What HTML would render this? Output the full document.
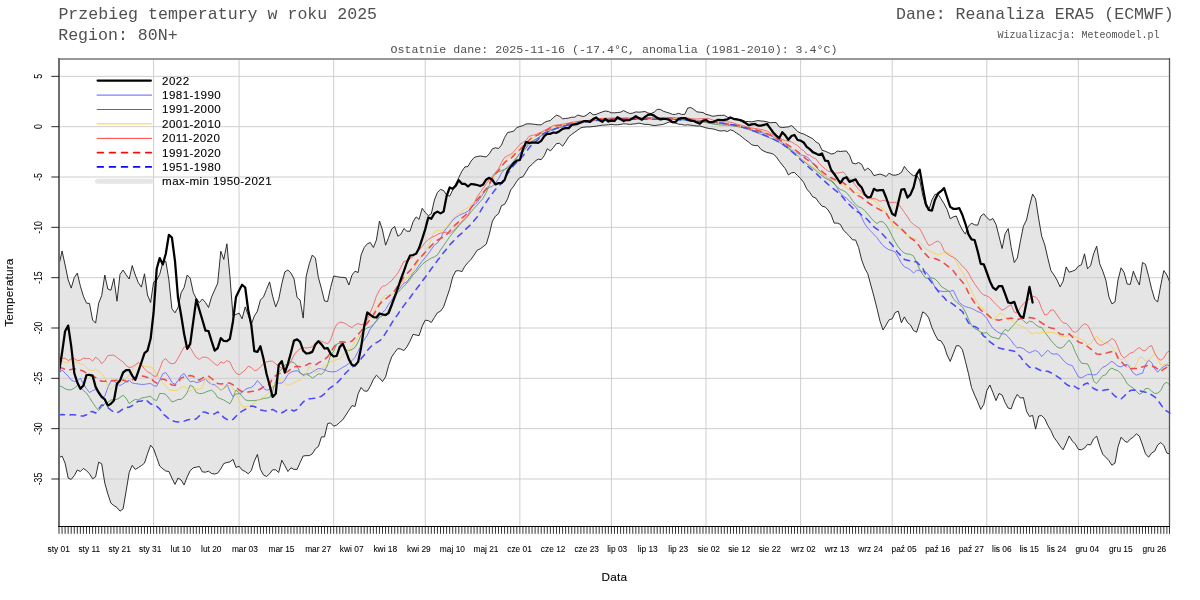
<!DOCTYPE html>
<html lang="pl">
<head>
<meta charset="utf-8">
<title>Przebieg temperatury w roku 2025 - Region: 80N+</title>
<style>
html,body{margin:0;padding:0;background:#fff;}
body{width:1200px;height:600px;overflow:hidden;}
svg{display:block;}
</style>
</head>
<body>
<svg width="1200" height="600" viewBox="0 0 1200 600" role="img" aria-label="Przebieg temperatury w roku 2025">
<rect width="1200" height="600" fill="#fff"/>
<g id="plot">
<path d="M59.0,76.35H1169.5M59.0,126.68H1169.5M59.0,177.01H1169.5M59.0,227.34H1169.5M59.0,277.67H1169.5M59.0,328.00H1169.5M59.0,378.33H1169.5M59.0,428.66H1169.5M59.0,478.99H1169.5M153.61,59.0V526.5M239.07,59.0V526.5M333.68,59.0V526.5M425.24,59.0V526.5M519.85,59.0V526.5M611.41,59.0V526.5M706.02,59.0V526.5M800.64,59.0V526.5M892.20,59.0V526.5M986.81,59.0V526.5M1078.37,59.0V526.5" fill="none" stroke="#cecece" stroke-width="1"/>
<path d="M59.0,264.8 L62.1,251.0 L65.1,265.0 L68.2,280.0 L71.2,288.1 L74.3,277.5 L77.3,273.1 L80.4,286.2 L83.4,296.2 L86.5,303.1 L89.5,303.5 L92.6,320.0 L95.6,323.1 L98.7,303.1 L101.7,295.6 L104.8,275.0 L107.8,289.0 L110.9,290.2 L113.9,278.5 L117.0,301.2 L120.0,274.4 L123.1,270.0 L126.1,274.8 L129.2,279.0 L132.2,265.6 L135.3,275.0 L138.4,282.8 L141.4,287.1 L144.5,273.8 L147.5,295.0 L150.6,302.5 L153.6,282.2 L156.7,280.0 L159.7,274.4 L162.8,262.5 L165.8,261.2 L168.9,280.0 L171.9,308.8 L175.0,312.8 L178.0,307.5 L181.1,292.8 L184.1,287.5 L187.2,275.0 L190.2,278.1 L193.3,292.5 L196.3,298.8 L199.4,302.5 L202.4,299.0 L205.5,302.5 L208.5,307.5 L211.6,296.9 L214.7,290.0 L217.7,283.1 L220.8,251.2 L223.8,259.4 L226.9,243.8 L229.9,276.2 L233.0,316.2 L236.0,314.4 L239.1,313.1 L242.1,318.8 L245.2,306.9 L248.2,315.0 L251.3,324.4 L254.3,316.2 L257.4,311.2 L260.4,300.0 L263.5,296.9 L266.5,289.4 L269.6,281.9 L272.6,296.2 L275.7,306.9 L278.7,299.4 L281.8,283.8 L284.8,271.9 L287.9,270.0 L291.0,273.1 L294.0,278.8 L297.1,297.5 L300.1,300.0 L303.2,318.1 L306.2,276.2 L309.3,263.8 L312.3,255.0 L315.4,258.1 L318.4,277.5 L321.5,288.8 L324.5,301.0 L327.6,301.5 L330.6,287.5 L333.7,276.0 L336.7,276.6 L339.8,277.2 L342.8,277.4 L345.9,277.8 L348.9,285.0 L352.0,275.0 L355.0,271.2 L358.1,272.5 L361.1,255.0 L364.2,247.5 L367.3,243.8 L370.3,242.5 L373.4,247.5 L376.4,240.0 L379.5,221.0 L382.5,230.0 L385.6,245.2 L388.6,237.5 L391.7,229.0 L394.7,226.5 L397.8,236.2 L400.8,234.4 L403.9,228.5 L406.9,231.2 L410.0,231.2 L413.0,221.9 L416.1,216.9 L419.1,219.4 L422.2,208.3 L425.2,212.5 L428.3,215.6 L431.3,213.8 L434.4,200.0 L437.4,192.5 L440.5,189.4 L443.6,190.6 L446.6,195.0 L449.7,196.2 L452.7,190.0 L455.8,183.8 L458.8,177.5 L461.9,171.2 L464.9,166.9 L468.0,166.5 L471.0,161.2 L474.1,157.5 L477.1,156.5 L480.2,156.0 L483.2,156.5 L486.3,156.9 L489.3,153.8 L492.4,148.8 L495.4,147.8 L498.5,148.5 L501.5,145.0 L504.6,137.5 L507.6,132.5 L510.7,131.9 L513.7,131.2 L516.8,127.5 L519.9,126.5 L522.9,125.6 L526.0,124.0 L529.0,123.8 L532.1,124.0 L535.1,124.4 L538.2,124.8 L541.2,124.8 L544.3,122.5 L547.3,121.2 L550.4,120.6 L553.4,117.5 L556.5,115.2 L559.5,116.2 L562.6,118.8 L565.6,118.5 L568.7,118.1 L571.7,117.2 L574.8,117.2 L577.8,115.0 L580.9,116.0 L583.9,116.5 L587.0,114.8 L590.0,112.2 L593.1,114.8 L596.2,114.4 L599.2,113.1 L602.3,111.9 L605.3,111.0 L608.4,111.5 L611.4,112.8 L614.5,112.8 L617.5,112.5 L620.6,112.2 L623.6,110.6 L626.7,112.2 L629.7,113.5 L632.8,113.1 L635.8,111.9 L638.9,112.2 L641.9,111.9 L645.0,111.5 L648.0,113.1 L651.1,113.5 L654.1,112.2 L657.2,109.4 L660.2,109.4 L663.3,111.2 L666.3,112.2 L669.4,113.1 L672.5,114.4 L675.5,114.4 L678.6,113.3 L681.6,114.4 L684.7,114.4 L687.7,108.1 L690.8,107.5 L693.8,109.4 L696.9,111.9 L699.9,112.2 L703.0,112.5 L706.0,114.4 L709.1,115.0 L712.1,116.2 L715.2,116.0 L718.2,115.4 L721.3,115.4 L724.3,115.2 L727.4,117.2 L730.4,117.8 L733.5,118.5 L736.5,119.0 L739.6,119.4 L742.6,120.2 L745.7,121.5 L748.8,121.5 L751.8,121.9 L754.9,121.2 L757.9,120.6 L761.0,121.0 L764.0,121.2 L767.1,121.9 L770.1,122.8 L773.2,122.5 L776.2,122.5 L779.3,126.9 L782.3,127.5 L785.4,127.2 L788.4,126.9 L791.5,125.6 L794.5,128.1 L797.6,131.5 L800.6,133.1 L803.7,134.0 L806.7,135.6 L809.8,137.2 L812.8,138.8 L815.9,141.9 L818.9,143.5 L822.0,150.2 L825.1,151.2 L828.1,152.5 L831.2,154.0 L834.2,153.5 L837.3,151.0 L840.3,151.5 L843.4,151.2 L846.4,151.0 L849.5,155.2 L852.5,163.1 L855.6,163.8 L858.6,162.5 L861.7,164.4 L864.7,170.6 L867.8,168.1 L870.8,170.6 L873.9,175.6 L876.9,174.8 L880.0,174.0 L883.0,175.0 L886.1,176.5 L889.1,173.1 L892.2,175.0 L895.2,175.2 L898.3,174.4 L901.4,172.5 L904.4,166.4 L907.5,170.6 L910.5,173.6 L913.6,175.8 L916.6,175.3 L919.7,180.0 L922.7,195.0 L925.8,206.2 L928.8,210.0 L931.9,200.0 L934.9,194.4 L938.0,194.0 L941.0,198.8 L944.1,203.8 L947.1,209.4 L950.2,218.8 L953.2,216.9 L956.3,216.0 L959.3,223.8 L962.4,230.0 L965.4,234.1 L968.5,226.2 L971.5,223.1 L974.6,224.8 L977.7,225.2 L980.7,216.2 L983.8,213.8 L986.8,217.5 L989.9,220.2 L992.9,218.5 L996.0,224.4 L999.0,236.2 L1002.1,248.5 L1005.1,233.8 L1008.2,228.6 L1011.2,247.5 L1014.3,262.5 L1017.3,258.1 L1020.4,241.2 L1023.4,226.2 L1026.5,220.0 L1029.5,206.2 L1032.6,194.0 L1035.6,198.8 L1038.7,218.8 L1041.7,236.2 L1044.8,245.0 L1047.8,258.1 L1050.9,270.6 L1054.0,275.0 L1057.0,280.0 L1060.1,286.9 L1063.1,281.2 L1066.2,266.9 L1069.2,272.2 L1072.3,271.2 L1075.3,270.0 L1078.4,266.2 L1081.4,264.8 L1084.5,253.8 L1087.5,268.8 L1090.6,265.6 L1093.6,253.8 L1096.7,246.2 L1099.7,263.8 L1102.8,271.2 L1105.8,280.0 L1108.9,296.9 L1111.9,303.8 L1115.0,301.9 L1118.0,280.0 L1121.1,267.8 L1124.1,272.5 L1127.2,284.0 L1130.3,284.4 L1133.3,271.2 L1136.4,278.8 L1139.4,285.0 L1142.5,262.5 L1145.5,264.4 L1148.6,276.2 L1151.6,288.8 L1154.7,299.4 L1157.7,301.9 L1160.8,285.0 L1163.8,270.6 L1166.9,275.0 L1169.9,282.5 L1169.9,454.0 L1166.9,453.1 L1163.8,445.6 L1160.8,442.5 L1157.7,445.0 L1154.7,451.2 L1151.6,453.1 L1148.6,457.2 L1145.5,453.8 L1142.5,445.0 L1139.4,436.2 L1136.4,433.8 L1133.3,437.2 L1130.3,439.0 L1127.2,442.5 L1124.1,440.6 L1121.1,437.2 L1118.0,446.9 L1115.0,463.1 L1111.9,465.2 L1108.9,460.6 L1105.8,457.2 L1102.8,454.4 L1099.7,446.2 L1096.7,436.2 L1093.6,438.8 L1090.6,445.0 L1087.5,444.4 L1084.5,448.1 L1081.4,449.8 L1078.4,449.4 L1075.3,444.0 L1072.3,441.0 L1069.2,436.0 L1066.2,443.1 L1063.1,449.8 L1060.1,446.2 L1057.0,441.5 L1054.0,437.5 L1050.9,430.6 L1047.8,425.3 L1044.8,418.8 L1041.7,415.6 L1038.7,416.0 L1035.6,429.1 L1032.6,415.4 L1029.5,416.5 L1026.5,411.2 L1023.4,397.5 L1020.4,398.1 L1017.3,394.4 L1014.3,400.0 L1011.2,408.8 L1008.2,408.1 L1005.1,402.5 L1002.1,395.0 L999.0,393.5 L996.0,400.6 L992.9,392.5 L989.9,385.0 L986.8,390.6 L983.8,404.4 L980.7,409.4 L977.7,401.9 L974.6,395.0 L971.5,387.5 L968.5,373.8 L965.4,361.2 L962.4,349.7 L959.3,345.8 L956.3,345.8 L953.2,353.8 L950.2,361.4 L947.1,355.0 L944.1,345.9 L941.0,340.9 L938.0,340.0 L934.9,334.4 L931.9,327.5 L928.8,318.1 L925.8,313.8 L922.7,311.9 L919.7,322.5 L916.6,332.2 L913.6,330.6 L910.5,325.0 L907.5,322.5 L904.4,316.9 L901.4,322.8 L898.3,311.2 L895.2,312.5 L892.2,318.8 L889.1,319.8 L886.1,325.0 L883.0,330.0 L880.0,321.2 L876.9,308.1 L873.9,296.2 L870.8,285.0 L867.8,273.8 L864.7,268.1 L861.7,260.0 L858.6,247.5 L855.6,240.0 L852.5,239.8 L849.5,236.2 L846.4,233.1 L843.4,230.0 L840.3,224.4 L837.3,223.1 L834.2,223.1 L831.2,215.0 L828.1,210.0 L825.1,206.9 L822.0,206.2 L818.9,202.5 L815.9,198.1 L812.8,196.9 L809.8,192.5 L806.7,188.8 L803.7,182.5 L800.6,178.5 L797.6,175.6 L794.5,172.5 L791.5,172.8 L788.4,175.0 L785.4,168.8 L782.3,165.0 L779.3,161.2 L776.2,156.7 L773.2,154.1 L770.1,153.1 L767.1,152.5 L764.0,151.2 L761.0,149.4 L757.9,145.6 L754.9,145.6 L751.8,144.8 L748.8,142.2 L745.7,140.0 L742.6,137.5 L739.6,135.0 L736.5,133.1 L733.5,131.0 L730.4,129.8 L727.4,131.5 L724.3,130.6 L721.3,131.0 L718.2,130.6 L715.2,129.4 L712.1,128.8 L709.1,128.5 L706.0,127.8 L703.0,126.9 L699.9,126.0 L696.9,126.0 L693.8,125.6 L690.8,125.2 L687.7,124.8 L684.7,125.2 L681.6,124.4 L678.6,124.2 L675.5,123.1 L672.5,122.6 L669.4,121.9 L666.3,123.1 L663.3,124.4 L660.2,124.8 L657.2,125.2 L654.1,125.6 L651.1,125.0 L648.0,124.4 L645.0,124.4 L641.9,123.8 L638.9,123.1 L635.8,123.8 L632.8,124.0 L629.7,124.4 L626.7,124.0 L623.6,123.8 L620.6,124.4 L617.5,124.8 L614.5,124.8 L611.4,124.4 L608.4,124.8 L605.3,125.0 L602.3,125.2 L599.2,125.6 L596.2,126.2 L593.1,126.5 L590.0,126.9 L587.0,126.9 L583.9,127.2 L580.9,127.8 L577.8,130.0 L574.8,132.2 L571.7,134.4 L568.7,136.9 L565.6,141.9 L562.6,146.2 L559.5,143.3 L556.5,143.6 L553.4,147.5 L550.4,150.9 L547.3,148.8 L544.3,155.6 L541.2,159.7 L538.2,159.1 L535.1,161.2 L532.1,164.4 L529.0,166.9 L526.0,171.9 L522.9,176.9 L519.9,177.5 L516.8,181.2 L513.7,186.2 L510.7,190.0 L507.6,198.8 L504.6,204.4 L501.5,205.6 L498.5,213.8 L495.4,216.2 L492.4,221.2 L489.3,234.1 L486.3,244.1 L483.2,246.6 L480.2,248.8 L477.1,250.3 L474.1,255.0 L471.0,259.4 L468.0,262.5 L464.9,266.2 L461.9,271.7 L458.8,270.6 L455.8,271.0 L452.7,276.9 L449.7,288.8 L446.6,298.1 L443.6,306.9 L440.5,311.2 L437.4,312.8 L434.4,317.5 L431.3,322.5 L428.3,320.6 L425.2,320.2 L422.2,326.2 L419.1,335.6 L416.1,335.0 L413.0,334.4 L410.0,341.2 L406.9,346.9 L403.9,350.6 L400.8,349.0 L397.8,348.5 L394.7,352.5 L391.7,356.9 L388.6,365.6 L385.6,376.9 L382.5,381.5 L379.5,378.1 L376.4,375.2 L373.4,379.4 L370.3,386.2 L367.3,391.2 L364.2,391.0 L361.1,387.5 L358.1,393.8 L355.0,406.5 L352.0,405.6 L348.9,410.3 L345.9,415.0 L342.8,419.7 L339.8,422.3 L336.7,425.1 L333.7,426.2 L330.6,422.9 L327.6,423.6 L324.5,436.9 L321.5,436.9 L318.4,446.5 L315.4,448.8 L312.3,453.8 L309.3,455.6 L306.2,455.6 L303.2,456.0 L300.1,462.5 L297.1,469.4 L294.0,469.4 L291.0,467.8 L287.9,471.5 L284.8,465.6 L281.8,460.2 L278.7,472.5 L275.7,469.8 L272.6,469.8 L269.6,473.8 L266.5,476.5 L263.5,475.0 L260.4,469.4 L257.4,454.4 L254.3,461.2 L251.3,470.6 L248.2,473.8 L245.2,471.5 L242.1,470.0 L239.1,466.2 L236.0,467.5 L233.0,459.4 L229.9,461.9 L226.9,462.5 L223.8,463.5 L220.8,468.8 L217.7,473.1 L214.7,474.0 L211.6,473.5 L208.5,471.2 L205.5,472.2 L202.4,471.9 L199.4,466.5 L196.3,467.2 L193.3,467.8 L190.2,470.6 L187.2,476.9 L184.1,485.0 L181.1,480.0 L178.0,478.1 L175.0,484.4 L171.9,478.1 L168.9,471.5 L165.8,471.0 L162.8,468.8 L159.7,466.0 L156.7,457.5 L153.6,448.8 L150.6,445.2 L147.5,453.8 L144.5,463.1 L141.4,465.6 L138.4,467.5 L135.3,469.4 L132.2,465.4 L129.2,472.5 L126.1,491.2 L123.1,508.8 L120.0,511.2 L117.0,507.5 L113.9,505.6 L110.9,503.1 L107.8,493.8 L104.8,483.1 L101.7,463.8 L98.7,462.2 L95.6,476.9 L92.6,478.8 L89.5,473.8 L86.5,470.6 L83.4,468.5 L80.4,471.5 L77.3,470.0 L74.3,475.6 L71.2,479.4 L68.2,478.1 L65.1,463.1 L62.1,456.2 L59.0,457.5Z" fill="#cccccc" fill-opacity="0.5" stroke="none"/>
<path d="M59.0,264.8 L62.1,251.0 L65.1,265.0 L68.2,280.0 L71.2,288.1 L74.3,277.5 L77.3,273.1 L80.4,286.2 L83.4,296.2 L86.5,303.1 L89.5,303.5 L92.6,320.0 L95.6,323.1 L98.7,303.1 L101.7,295.6 L104.8,275.0 L107.8,289.0 L110.9,290.2 L113.9,278.5 L117.0,301.2 L120.0,274.4 L123.1,270.0 L126.1,274.8 L129.2,279.0 L132.2,265.6 L135.3,275.0 L138.4,282.8 L141.4,287.1 L144.5,273.8 L147.5,295.0 L150.6,302.5 L153.6,282.2 L156.7,280.0 L159.7,274.4 L162.8,262.5 L165.8,261.2 L168.9,280.0 L171.9,308.8 L175.0,312.8 L178.0,307.5 L181.1,292.8 L184.1,287.5 L187.2,275.0 L190.2,278.1 L193.3,292.5 L196.3,298.8 L199.4,302.5 L202.4,299.0 L205.5,302.5 L208.5,307.5 L211.6,296.9 L214.7,290.0 L217.7,283.1 L220.8,251.2 L223.8,259.4 L226.9,243.8 L229.9,276.2 L233.0,316.2 L236.0,314.4 L239.1,313.1 L242.1,318.8 L245.2,306.9 L248.2,315.0 L251.3,324.4 L254.3,316.2 L257.4,311.2 L260.4,300.0 L263.5,296.9 L266.5,289.4 L269.6,281.9 L272.6,296.2 L275.7,306.9 L278.7,299.4 L281.8,283.8 L284.8,271.9 L287.9,270.0 L291.0,273.1 L294.0,278.8 L297.1,297.5 L300.1,300.0 L303.2,318.1 L306.2,276.2 L309.3,263.8 L312.3,255.0 L315.4,258.1 L318.4,277.5 L321.5,288.8 L324.5,301.0 L327.6,301.5 L330.6,287.5 L333.7,276.0 L336.7,276.6 L339.8,277.2 L342.8,277.4 L345.9,277.8 L348.9,285.0 L352.0,275.0 L355.0,271.2 L358.1,272.5 L361.1,255.0 L364.2,247.5 L367.3,243.8 L370.3,242.5 L373.4,247.5 L376.4,240.0 L379.5,221.0 L382.5,230.0 L385.6,245.2 L388.6,237.5 L391.7,229.0 L394.7,226.5 L397.8,236.2 L400.8,234.4 L403.9,228.5 L406.9,231.2 L410.0,231.2 L413.0,221.9 L416.1,216.9 L419.1,219.4 L422.2,208.3 L425.2,212.5 L428.3,215.6 L431.3,213.8 L434.4,200.0 L437.4,192.5 L440.5,189.4 L443.6,190.6 L446.6,195.0 L449.7,196.2 L452.7,190.0 L455.8,183.8 L458.8,177.5 L461.9,171.2 L464.9,166.9 L468.0,166.5 L471.0,161.2 L474.1,157.5 L477.1,156.5 L480.2,156.0 L483.2,156.5 L486.3,156.9 L489.3,153.8 L492.4,148.8 L495.4,147.8 L498.5,148.5 L501.5,145.0 L504.6,137.5 L507.6,132.5 L510.7,131.9 L513.7,131.2 L516.8,127.5 L519.9,126.5 L522.9,125.6 L526.0,124.0 L529.0,123.8 L532.1,124.0 L535.1,124.4 L538.2,124.8 L541.2,124.8 L544.3,122.5 L547.3,121.2 L550.4,120.6 L553.4,117.5 L556.5,115.2 L559.5,116.2 L562.6,118.8 L565.6,118.5 L568.7,118.1 L571.7,117.2 L574.8,117.2 L577.8,115.0 L580.9,116.0 L583.9,116.5 L587.0,114.8 L590.0,112.2 L593.1,114.8 L596.2,114.4 L599.2,113.1 L602.3,111.9 L605.3,111.0 L608.4,111.5 L611.4,112.8 L614.5,112.8 L617.5,112.5 L620.6,112.2 L623.6,110.6 L626.7,112.2 L629.7,113.5 L632.8,113.1 L635.8,111.9 L638.9,112.2 L641.9,111.9 L645.0,111.5 L648.0,113.1 L651.1,113.5 L654.1,112.2 L657.2,109.4 L660.2,109.4 L663.3,111.2 L666.3,112.2 L669.4,113.1 L672.5,114.4 L675.5,114.4 L678.6,113.3 L681.6,114.4 L684.7,114.4 L687.7,108.1 L690.8,107.5 L693.8,109.4 L696.9,111.9 L699.9,112.2 L703.0,112.5 L706.0,114.4 L709.1,115.0 L712.1,116.2 L715.2,116.0 L718.2,115.4 L721.3,115.4 L724.3,115.2 L727.4,117.2 L730.4,117.8 L733.5,118.5 L736.5,119.0 L739.6,119.4 L742.6,120.2 L745.7,121.5 L748.8,121.5 L751.8,121.9 L754.9,121.2 L757.9,120.6 L761.0,121.0 L764.0,121.2 L767.1,121.9 L770.1,122.8 L773.2,122.5 L776.2,122.5 L779.3,126.9 L782.3,127.5 L785.4,127.2 L788.4,126.9 L791.5,125.6 L794.5,128.1 L797.6,131.5 L800.6,133.1 L803.7,134.0 L806.7,135.6 L809.8,137.2 L812.8,138.8 L815.9,141.9 L818.9,143.5 L822.0,150.2 L825.1,151.2 L828.1,152.5 L831.2,154.0 L834.2,153.5 L837.3,151.0 L840.3,151.5 L843.4,151.2 L846.4,151.0 L849.5,155.2 L852.5,163.1 L855.6,163.8 L858.6,162.5 L861.7,164.4 L864.7,170.6 L867.8,168.1 L870.8,170.6 L873.9,175.6 L876.9,174.8 L880.0,174.0 L883.0,175.0 L886.1,176.5 L889.1,173.1 L892.2,175.0 L895.2,175.2 L898.3,174.4 L901.4,172.5 L904.4,166.4 L907.5,170.6 L910.5,173.6 L913.6,175.8 L916.6,175.3 L919.7,180.0 L922.7,195.0 L925.8,206.2 L928.8,210.0 L931.9,200.0 L934.9,194.4 L938.0,194.0 L941.0,198.8 L944.1,203.8 L947.1,209.4 L950.2,218.8 L953.2,216.9 L956.3,216.0 L959.3,223.8 L962.4,230.0 L965.4,234.1 L968.5,226.2 L971.5,223.1 L974.6,224.8 L977.7,225.2 L980.7,216.2 L983.8,213.8 L986.8,217.5 L989.9,220.2 L992.9,218.5 L996.0,224.4 L999.0,236.2 L1002.1,248.5 L1005.1,233.8 L1008.2,228.6 L1011.2,247.5 L1014.3,262.5 L1017.3,258.1 L1020.4,241.2 L1023.4,226.2 L1026.5,220.0 L1029.5,206.2 L1032.6,194.0 L1035.6,198.8 L1038.7,218.8 L1041.7,236.2 L1044.8,245.0 L1047.8,258.1 L1050.9,270.6 L1054.0,275.0 L1057.0,280.0 L1060.1,286.9 L1063.1,281.2 L1066.2,266.9 L1069.2,272.2 L1072.3,271.2 L1075.3,270.0 L1078.4,266.2 L1081.4,264.8 L1084.5,253.8 L1087.5,268.8 L1090.6,265.6 L1093.6,253.8 L1096.7,246.2 L1099.7,263.8 L1102.8,271.2 L1105.8,280.0 L1108.9,296.9 L1111.9,303.8 L1115.0,301.9 L1118.0,280.0 L1121.1,267.8 L1124.1,272.5 L1127.2,284.0 L1130.3,284.4 L1133.3,271.2 L1136.4,278.8 L1139.4,285.0 L1142.5,262.5 L1145.5,264.4 L1148.6,276.2 L1151.6,288.8 L1154.7,299.4 L1157.7,301.9 L1160.8,285.0 L1163.8,270.6 L1166.9,275.0 L1169.9,282.5" fill="none" stroke="#1a1a1a" stroke-width="0.9" stroke-linejoin="round"/>
<path d="M59.0,457.5 L62.1,456.2 L65.1,463.1 L68.2,478.1 L71.2,479.4 L74.3,475.6 L77.3,470.0 L80.4,471.5 L83.4,468.5 L86.5,470.6 L89.5,473.8 L92.6,478.8 L95.6,476.9 L98.7,462.2 L101.7,463.8 L104.8,483.1 L107.8,493.8 L110.9,503.1 L113.9,505.6 L117.0,507.5 L120.0,511.2 L123.1,508.8 L126.1,491.2 L129.2,472.5 L132.2,465.4 L135.3,469.4 L138.4,467.5 L141.4,465.6 L144.5,463.1 L147.5,453.8 L150.6,445.2 L153.6,448.8 L156.7,457.5 L159.7,466.0 L162.8,468.8 L165.8,471.0 L168.9,471.5 L171.9,478.1 L175.0,484.4 L178.0,478.1 L181.1,480.0 L184.1,485.0 L187.2,476.9 L190.2,470.6 L193.3,467.8 L196.3,467.2 L199.4,466.5 L202.4,471.9 L205.5,472.2 L208.5,471.2 L211.6,473.5 L214.7,474.0 L217.7,473.1 L220.8,468.8 L223.8,463.5 L226.9,462.5 L229.9,461.9 L233.0,459.4 L236.0,467.5 L239.1,466.2 L242.1,470.0 L245.2,471.5 L248.2,473.8 L251.3,470.6 L254.3,461.2 L257.4,454.4 L260.4,469.4 L263.5,475.0 L266.5,476.5 L269.6,473.8 L272.6,469.8 L275.7,469.8 L278.7,472.5 L281.8,460.2 L284.8,465.6 L287.9,471.5 L291.0,467.8 L294.0,469.4 L297.1,469.4 L300.1,462.5 L303.2,456.0 L306.2,455.6 L309.3,455.6 L312.3,453.8 L315.4,448.8 L318.4,446.5 L321.5,436.9 L324.5,436.9 L327.6,423.6 L330.6,422.9 L333.7,426.2 L336.7,425.1 L339.8,422.3 L342.8,419.7 L345.9,415.0 L348.9,410.3 L352.0,405.6 L355.0,406.5 L358.1,393.8 L361.1,387.5 L364.2,391.0 L367.3,391.2 L370.3,386.2 L373.4,379.4 L376.4,375.2 L379.5,378.1 L382.5,381.5 L385.6,376.9 L388.6,365.6 L391.7,356.9 L394.7,352.5 L397.8,348.5 L400.8,349.0 L403.9,350.6 L406.9,346.9 L410.0,341.2 L413.0,334.4 L416.1,335.0 L419.1,335.6 L422.2,326.2 L425.2,320.2 L428.3,320.6 L431.3,322.5 L434.4,317.5 L437.4,312.8 L440.5,311.2 L443.6,306.9 L446.6,298.1 L449.7,288.8 L452.7,276.9 L455.8,271.0 L458.8,270.6 L461.9,271.7 L464.9,266.2 L468.0,262.5 L471.0,259.4 L474.1,255.0 L477.1,250.3 L480.2,248.8 L483.2,246.6 L486.3,244.1 L489.3,234.1 L492.4,221.2 L495.4,216.2 L498.5,213.8 L501.5,205.6 L504.6,204.4 L507.6,198.8 L510.7,190.0 L513.7,186.2 L516.8,181.2 L519.9,177.5 L522.9,176.9 L526.0,171.9 L529.0,166.9 L532.1,164.4 L535.1,161.2 L538.2,159.1 L541.2,159.7 L544.3,155.6 L547.3,148.8 L550.4,150.9 L553.4,147.5 L556.5,143.6 L559.5,143.3 L562.6,146.2 L565.6,141.9 L568.7,136.9 L571.7,134.4 L574.8,132.2 L577.8,130.0 L580.9,127.8 L583.9,127.2 L587.0,126.9 L590.0,126.9 L593.1,126.5 L596.2,126.2 L599.2,125.6 L602.3,125.2 L605.3,125.0 L608.4,124.8 L611.4,124.4 L614.5,124.8 L617.5,124.8 L620.6,124.4 L623.6,123.8 L626.7,124.0 L629.7,124.4 L632.8,124.0 L635.8,123.8 L638.9,123.1 L641.9,123.8 L645.0,124.4 L648.0,124.4 L651.1,125.0 L654.1,125.6 L657.2,125.2 L660.2,124.8 L663.3,124.4 L666.3,123.1 L669.4,121.9 L672.5,122.6 L675.5,123.1 L678.6,124.2 L681.6,124.4 L684.7,125.2 L687.7,124.8 L690.8,125.2 L693.8,125.6 L696.9,126.0 L699.9,126.0 L703.0,126.9 L706.0,127.8 L709.1,128.5 L712.1,128.8 L715.2,129.4 L718.2,130.6 L721.3,131.0 L724.3,130.6 L727.4,131.5 L730.4,129.8 L733.5,131.0 L736.5,133.1 L739.6,135.0 L742.6,137.5 L745.7,140.0 L748.8,142.2 L751.8,144.8 L754.9,145.6 L757.9,145.6 L761.0,149.4 L764.0,151.2 L767.1,152.5 L770.1,153.1 L773.2,154.1 L776.2,156.7 L779.3,161.2 L782.3,165.0 L785.4,168.8 L788.4,175.0 L791.5,172.8 L794.5,172.5 L797.6,175.6 L800.6,178.5 L803.7,182.5 L806.7,188.8 L809.8,192.5 L812.8,196.9 L815.9,198.1 L818.9,202.5 L822.0,206.2 L825.1,206.9 L828.1,210.0 L831.2,215.0 L834.2,223.1 L837.3,223.1 L840.3,224.4 L843.4,230.0 L846.4,233.1 L849.5,236.2 L852.5,239.8 L855.6,240.0 L858.6,247.5 L861.7,260.0 L864.7,268.1 L867.8,273.8 L870.8,285.0 L873.9,296.2 L876.9,308.1 L880.0,321.2 L883.0,330.0 L886.1,325.0 L889.1,319.8 L892.2,318.8 L895.2,312.5 L898.3,311.2 L901.4,322.8 L904.4,316.9 L907.5,322.5 L910.5,325.0 L913.6,330.6 L916.6,332.2 L919.7,322.5 L922.7,311.9 L925.8,313.8 L928.8,318.1 L931.9,327.5 L934.9,334.4 L938.0,340.0 L941.0,340.9 L944.1,345.9 L947.1,355.0 L950.2,361.4 L953.2,353.8 L956.3,345.8 L959.3,345.8 L962.4,349.7 L965.4,361.2 L968.5,373.8 L971.5,387.5 L974.6,395.0 L977.7,401.9 L980.7,409.4 L983.8,404.4 L986.8,390.6 L989.9,385.0 L992.9,392.5 L996.0,400.6 L999.0,393.5 L1002.1,395.0 L1005.1,402.5 L1008.2,408.1 L1011.2,408.8 L1014.3,400.0 L1017.3,394.4 L1020.4,398.1 L1023.4,397.5 L1026.5,411.2 L1029.5,416.5 L1032.6,415.4 L1035.6,429.1 L1038.7,416.0 L1041.7,415.6 L1044.8,418.8 L1047.8,425.3 L1050.9,430.6 L1054.0,437.5 L1057.0,441.5 L1060.1,446.2 L1063.1,449.8 L1066.2,443.1 L1069.2,436.0 L1072.3,441.0 L1075.3,444.0 L1078.4,449.4 L1081.4,449.8 L1084.5,448.1 L1087.5,444.4 L1090.6,445.0 L1093.6,438.8 L1096.7,436.2 L1099.7,446.2 L1102.8,454.4 L1105.8,457.2 L1108.9,460.6 L1111.9,465.2 L1115.0,463.1 L1118.0,446.9 L1121.1,437.2 L1124.1,440.6 L1127.2,442.5 L1130.3,439.0 L1133.3,437.2 L1136.4,433.8 L1139.4,436.2 L1142.5,445.0 L1145.5,453.8 L1148.6,457.2 L1151.6,453.1 L1154.7,451.2 L1157.7,445.0 L1160.8,442.5 L1163.8,445.6 L1166.9,453.1 L1169.9,454.0" fill="none" stroke="#1a1a1a" stroke-width="0.9" stroke-linejoin="round"/>
<path d="M59.0,373.1 L62.1,370.0 L65.1,373.1 L68.2,376.2 L71.2,380.0 L74.3,381.5 L77.3,381.2 L80.4,378.1 L83.4,383.8 L86.5,388.8 L89.5,392.5 L92.6,390.6 L95.6,389.4 L98.7,393.8 L101.7,397.5 L104.8,396.2 L107.8,387.5 L110.9,381.2 L113.9,381.0 L117.0,383.8 L120.0,385.6 L123.1,383.8 L126.1,381.9 L129.2,380.0 L132.2,383.1 L135.3,383.5 L138.4,384.0 L141.4,384.4 L144.5,384.4 L147.5,383.8 L150.6,383.5 L153.6,385.6 L156.7,386.2 L159.7,380.0 L162.8,373.8 L165.8,372.5 L168.9,376.9 L171.9,382.5 L175.0,384.4 L178.0,380.6 L181.1,375.6 L184.1,373.5 L187.2,378.1 L190.2,381.9 L193.3,381.2 L196.3,382.5 L199.4,381.9 L202.4,380.6 L205.5,378.8 L208.5,382.5 L211.6,384.4 L214.7,384.4 L217.7,387.5 L220.8,390.0 L223.8,388.8 L226.9,384.4 L229.9,391.2 L233.0,396.9 L236.0,393.8 L239.1,393.8 L242.1,392.5 L245.2,389.4 L248.2,388.1 L251.3,387.5 L254.3,385.0 L257.4,380.6 L260.4,383.8 L263.5,388.1 L266.5,390.2 L269.6,389.4 L272.6,386.9 L275.7,384.4 L278.7,383.1 L281.8,383.1 L284.8,380.0 L287.9,374.4 L291.0,372.2 L294.0,371.1 L297.1,370.6 L300.1,373.1 L303.2,374.6 L306.2,373.8 L309.3,373.8 L312.3,372.1 L315.4,370.1 L318.4,368.5 L321.5,368.9 L324.5,369.6 L327.6,371.2 L330.6,371.7 L333.7,371.9 L336.7,371.2 L339.8,369.2 L342.8,367.3 L345.9,365.6 L348.9,363.5 L352.0,360.6 L355.0,357.5 L358.1,351.2 L361.1,345.0 L364.2,340.0 L367.3,335.0 L370.3,328.8 L373.4,325.0 L376.4,320.6 L379.5,315.6 L382.5,312.5 L385.6,309.4 L388.6,304.4 L391.7,300.0 L394.7,295.0 L397.8,290.6 L400.8,286.9 L403.9,283.1 L406.9,281.9 L410.0,277.5 L413.0,273.1 L416.1,270.0 L419.1,265.0 L422.2,261.2 L425.2,257.5 L428.3,253.8 L431.3,249.4 L434.4,245.0 L437.4,243.1 L440.5,238.8 L443.6,231.9 L446.6,228.1 L449.7,224.4 L452.7,220.0 L455.8,217.5 L458.8,215.6 L461.9,214.0 L464.9,212.8 L468.0,211.2 L471.0,208.1 L474.1,205.0 L477.1,202.5 L480.2,198.1 L483.2,193.8 L486.3,189.4 L489.3,187.5 L492.4,186.2 L495.4,183.1 L498.5,178.8 L501.5,173.1 L504.6,169.4 L507.6,166.9 L510.7,164.4 L513.7,161.2 L516.8,157.5 L519.9,153.1 L522.9,150.0 L526.0,146.2 L529.0,143.0 L532.1,141.3 L535.1,139.5 L538.2,137.8 L541.2,135.9 L544.3,133.9 L547.3,132.0 L550.4,130.8 L553.4,129.7 L556.5,128.5 L559.5,127.3 L562.6,127.1 L565.6,125.5 L568.7,124.8 L571.7,124.1 L574.8,123.4 L577.8,122.9 L580.9,122.3 L583.9,121.8 L587.0,121.6 L590.0,121.4 L593.1,120.9 L596.2,120.3 L599.2,119.8 L602.3,119.6 L605.3,119.5 L608.4,119.4 L611.4,119.3 L614.5,119.3 L617.5,119.2 L620.6,119.2 L623.6,119.2 L626.7,119.2 L629.7,119.1 L632.8,119.1 L635.8,119.1 L638.9,119.1 L641.9,119.0 L645.0,119.0 L648.0,119.0 L651.1,119.0 L654.1,119.0 L657.2,119.0 L660.2,119.0 L663.3,119.0 L666.3,119.0 L669.4,119.1 L672.5,119.0 L675.5,119.2 L678.6,119.4 L681.6,119.6 L684.7,119.8 L687.7,120.0 L690.8,120.2 L693.8,120.4 L696.9,120.6 L699.9,121.0 L703.0,121.4 L706.0,121.8 L709.1,122.2 L712.1,122.6 L715.2,122.9 L718.2,123.2 L721.3,123.5 L724.3,123.9 L727.4,124.4 L730.4,124.8 L733.5,125.2 L736.5,126.0 L739.6,126.7 L742.6,127.4 L745.7,128.1 L748.8,129.1 L751.8,130.0 L754.9,130.9 L757.9,131.9 L761.0,132.5 L764.0,133.1 L767.1,134.1 L770.1,135.0 L773.2,136.9 L776.2,138.8 L779.3,140.6 L782.3,142.5 L785.4,145.0 L788.4,147.5 L791.5,150.0 L794.5,152.5 L797.6,153.1 L800.6,155.0 L803.7,155.6 L806.7,156.6 L809.8,159.4 L812.8,163.8 L815.9,166.9 L818.9,170.0 L822.0,173.8 L825.1,176.2 L828.1,178.1 L831.2,180.0 L834.2,183.1 L837.3,188.1 L840.3,193.1 L843.4,196.2 L846.4,198.1 L849.5,201.2 L852.5,203.8 L855.6,206.9 L858.6,211.2 L861.7,217.5 L864.7,223.8 L867.8,228.1 L870.8,231.2 L873.9,234.4 L876.9,237.5 L880.0,241.9 L883.0,245.6 L886.1,248.1 L889.1,249.8 L892.2,250.6 L895.2,251.9 L898.3,257.5 L901.4,263.1 L904.4,266.9 L907.5,268.1 L910.5,270.0 L913.6,273.1 L916.6,270.2 L919.7,270.6 L922.7,271.9 L925.8,271.9 L928.8,275.3 L931.9,280.6 L934.9,286.9 L938.0,290.6 L941.0,291.2 L944.1,291.5 L947.1,291.4 L950.2,291.2 L953.2,290.3 L956.3,296.7 L959.3,302.6 L962.4,305.0 L965.4,306.7 L968.5,307.5 L971.5,308.3 L974.6,309.9 L977.7,311.7 L980.7,312.5 L983.8,315.0 L986.8,318.3 L989.9,323.9 L992.9,328.4 L996.0,330.8 L999.0,332.8 L1002.1,333.8 L1005.1,334.0 L1008.2,336.9 L1011.2,340.6 L1014.3,345.0 L1017.3,347.8 L1020.4,347.5 L1023.4,348.5 L1026.5,351.2 L1029.5,352.8 L1032.6,351.4 L1035.6,350.4 L1038.7,352.4 L1041.7,356.6 L1044.8,353.4 L1047.8,350.1 L1050.9,353.3 L1054.0,354.2 L1057.0,353.8 L1060.1,356.2 L1063.1,360.0 L1066.2,363.2 L1069.2,364.8 L1072.3,365.6 L1075.3,371.2 L1078.4,376.9 L1081.4,377.8 L1084.5,376.2 L1087.5,374.4 L1090.6,374.4 L1093.6,375.0 L1096.7,374.4 L1099.7,370.6 L1102.8,367.2 L1105.8,366.0 L1108.9,363.5 L1111.9,361.2 L1115.0,363.8 L1118.0,366.2 L1121.1,366.9 L1124.1,365.0 L1127.2,364.4 L1130.3,368.5 L1133.3,373.1 L1136.4,375.2 L1139.4,374.0 L1142.5,373.1 L1145.5,365.0 L1148.6,360.2 L1151.6,362.5 L1154.7,368.8 L1157.7,372.2 L1160.8,368.8 L1163.8,366.5 L1166.9,364.8 L1169.9,366.2" fill="none" stroke="#7272ff" stroke-width="0.95" stroke-linejoin="round"/>
<path d="M59.0,385.6 L62.1,386.9 L65.1,388.8 L68.2,389.8 L71.2,389.8 L74.3,388.1 L77.3,385.6 L80.4,387.5 L83.4,390.6 L86.5,393.1 L89.5,397.5 L92.6,402.5 L95.6,406.9 L98.7,410.6 L101.7,406.9 L104.8,403.8 L107.8,402.5 L110.9,400.0 L113.9,399.4 L117.0,399.4 L120.0,397.5 L123.1,395.2 L126.1,398.1 L129.2,403.5 L132.2,401.2 L135.3,399.4 L138.4,400.0 L141.4,398.1 L144.5,397.5 L147.5,396.9 L150.6,396.2 L153.6,399.4 L156.7,400.6 L159.7,393.5 L162.8,393.5 L165.8,394.4 L168.9,398.1 L171.9,401.9 L175.0,401.0 L178.0,399.4 L181.1,399.4 L184.1,396.9 L187.2,392.5 L190.2,385.2 L193.3,386.9 L196.3,392.5 L199.4,393.5 L202.4,393.5 L205.5,392.2 L208.5,391.0 L211.6,390.2 L214.7,392.8 L217.7,397.5 L220.8,398.8 L223.8,400.0 L226.9,401.9 L229.9,403.8 L233.0,398.1 L236.0,390.0 L239.1,392.8 L242.1,396.2 L245.2,399.8 L248.2,400.6 L251.3,400.6 L254.3,400.6 L257.4,400.2 L260.4,399.4 L263.5,398.5 L266.5,398.1 L269.6,397.5 L272.6,391.2 L275.7,381.2 L278.7,372.5 L281.8,368.8 L284.8,365.0 L287.9,363.8 L291.0,361.9 L294.0,362.5 L297.1,366.2 L300.1,372.5 L303.2,375.6 L306.2,374.4 L309.3,375.6 L312.3,378.1 L315.4,376.2 L318.4,373.8 L321.5,374.4 L324.5,371.2 L327.6,365.0 L330.6,355.0 L333.7,351.2 L336.7,344.2 L339.8,343.1 L342.8,344.1 L345.9,350.0 L348.9,350.6 L352.0,349.4 L355.0,347.5 L358.1,341.9 L361.1,335.0 L364.2,330.0 L367.3,327.8 L370.3,326.9 L373.4,324.4 L376.4,321.2 L379.5,317.5 L382.5,315.6 L385.6,315.6 L388.6,310.0 L391.7,303.8 L394.7,296.9 L397.8,292.5 L400.8,289.4 L403.9,286.2 L406.9,283.1 L410.0,279.4 L413.0,275.0 L416.1,272.2 L419.1,268.1 L422.2,264.4 L425.2,261.9 L428.3,260.0 L431.3,258.1 L434.4,256.9 L437.4,255.0 L440.5,250.0 L443.6,245.6 L446.6,241.2 L449.7,236.9 L452.7,233.1 L455.8,229.4 L458.8,225.6 L461.9,222.5 L464.9,219.4 L468.0,216.2 L471.0,211.9 L474.1,208.4 L477.1,205.0 L480.2,201.6 L483.2,198.1 L486.3,192.5 L489.3,185.0 L492.4,177.5 L495.4,173.8 L498.5,171.9 L501.5,170.6 L504.6,169.4 L507.6,168.1 L510.7,165.0 L513.7,161.2 L516.8,157.5 L519.9,154.4 L522.9,151.9 L526.0,148.1 L529.0,144.6 L532.1,141.6 L535.1,139.9 L538.2,138.3 L541.2,135.4 L544.3,133.9 L547.3,132.3 L550.4,129.6 L553.4,129.0 L556.5,128.3 L559.5,127.7 L562.6,125.8 L565.6,125.1 L568.7,124.5 L571.7,123.8 L574.8,123.2 L577.8,122.6 L580.9,122.1 L583.9,121.6 L587.0,121.4 L590.0,121.1 L593.1,120.6 L596.2,120.1 L599.2,119.6 L602.3,119.4 L605.3,119.3 L608.4,119.2 L611.4,119.1 L614.5,119.0 L617.5,119.0 L620.6,119.0 L623.6,119.0 L626.7,119.0 L629.7,118.9 L632.8,118.9 L635.8,118.8 L638.9,118.8 L641.9,118.8 L645.0,118.8 L648.0,118.7 L651.1,118.7 L654.1,118.7 L657.2,118.7 L660.2,118.7 L663.3,118.8 L666.3,118.8 L669.4,118.8 L672.5,119.4 L675.5,119.5 L678.6,119.7 L681.6,119.8 L684.7,120.0 L687.7,120.2 L690.8,120.5 L693.8,120.8 L696.9,121.0 L699.9,121.4 L703.0,121.9 L706.0,122.5 L709.1,123.1 L712.1,123.8 L715.2,124.4 L718.2,124.7 L721.3,125.0 L724.3,125.1 L727.4,125.2 L730.4,125.6 L733.5,126.0 L736.5,126.4 L739.6,126.9 L742.6,127.7 L745.7,128.5 L748.8,129.6 L751.8,130.6 L754.9,131.9 L757.9,133.1 L761.0,134.4 L764.0,135.6 L767.1,136.9 L770.1,138.1 L773.2,139.4 L776.2,140.6 L779.3,142.5 L782.3,144.4 L785.4,146.6 L788.4,148.8 L791.5,151.1 L794.5,153.4 L797.6,155.6 L800.6,157.8 L803.7,160.8 L806.7,163.8 L809.8,165.9 L812.8,168.1 L815.9,170.6 L818.9,173.1 L822.0,175.6 L825.1,178.1 L828.1,179.7 L831.2,181.2 L834.2,184.1 L837.3,186.9 L840.3,189.4 L843.4,190.6 L846.4,192.5 L849.5,196.2 L852.5,200.6 L855.6,204.4 L858.6,206.9 L861.7,208.1 L864.7,210.6 L867.8,214.1 L870.8,217.8 L873.9,221.2 L876.9,223.5 L880.0,221.5 L883.0,221.9 L886.1,225.0 L889.1,230.0 L892.2,236.2 L895.2,241.9 L898.3,246.9 L901.4,250.6 L904.4,253.1 L907.5,254.0 L910.5,254.4 L913.6,256.2 L916.6,262.5 L919.7,269.4 L922.7,274.4 L925.8,278.1 L928.8,278.3 L931.9,277.8 L934.9,278.8 L938.0,281.9 L941.0,286.2 L944.1,288.3 L947.1,290.0 L950.2,292.7 L953.2,298.5 L956.3,301.9 L959.3,304.4 L962.4,306.9 L965.4,311.9 L968.5,319.1 L971.5,325.3 L974.6,328.4 L977.7,330.0 L980.7,332.2 L983.8,333.1 L986.8,332.5 L989.9,335.9 L992.9,337.4 L996.0,338.1 L999.0,339.1 L1002.1,333.1 L1005.1,329.4 L1008.2,331.2 L1011.2,327.5 L1014.3,324.4 L1017.3,320.6 L1020.4,318.1 L1023.4,320.6 L1026.5,323.5 L1029.5,321.2 L1032.6,321.9 L1035.6,324.7 L1038.7,326.9 L1041.7,327.4 L1044.8,332.2 L1047.8,336.2 L1050.9,340.3 L1054.0,343.9 L1057.0,346.9 L1060.1,348.3 L1063.1,347.2 L1066.2,343.4 L1069.2,340.1 L1072.3,344.7 L1075.3,352.2 L1078.4,358.5 L1081.4,363.1 L1084.5,363.6 L1087.5,363.8 L1090.6,370.0 L1093.6,381.2 L1096.7,383.5 L1099.7,379.4 L1102.8,375.6 L1105.8,374.8 L1108.9,370.0 L1111.9,368.1 L1115.0,369.8 L1118.0,370.6 L1121.1,373.8 L1124.1,378.1 L1127.2,383.8 L1130.3,386.2 L1133.3,388.1 L1136.4,391.2 L1139.4,394.4 L1142.5,392.5 L1145.5,388.5 L1148.6,388.5 L1151.6,391.2 L1154.7,393.5 L1157.7,393.1 L1160.8,390.6 L1163.8,384.1 L1166.9,382.2 L1169.9,385.3" fill="none" stroke="#5fa05f" stroke-width="0.95" stroke-linejoin="round"/>
<path d="M59.0,358.8 L62.1,360.6 L65.1,362.5 L68.2,362.5 L71.2,359.4 L74.3,360.6 L77.3,363.1 L80.4,363.8 L83.4,364.4 L86.5,367.5 L89.5,370.0 L92.6,370.6 L95.6,369.4 L98.7,371.2 L101.7,373.8 L104.8,377.5 L107.8,386.2 L110.9,389.4 L113.9,386.2 L117.0,383.8 L120.0,382.5 L123.1,380.6 L126.1,378.8 L129.2,375.0 L132.2,370.0 L135.3,366.2 L138.4,362.5 L141.4,364.4 L144.5,366.2 L147.5,366.9 L150.6,366.9 L153.6,368.8 L156.7,374.4 L159.7,378.8 L162.8,382.5 L165.8,386.2 L168.9,390.0 L171.9,390.2 L175.0,390.6 L178.0,390.0 L181.1,387.5 L184.1,386.2 L187.2,388.8 L190.2,391.2 L193.3,388.8 L196.3,388.5 L199.4,389.6 L202.4,386.9 L205.5,378.8 L208.5,378.8 L211.6,385.0 L214.7,385.6 L217.7,388.1 L220.8,390.0 L223.8,389.0 L226.9,386.2 L229.9,385.0 L233.0,388.1 L236.0,393.8 L239.1,401.2 L242.1,406.5 L245.2,406.9 L248.2,406.5 L251.3,405.6 L254.3,403.1 L257.4,400.6 L260.4,398.8 L263.5,396.9 L266.5,395.0 L269.6,391.9 L272.6,386.9 L275.7,383.1 L278.7,380.0 L281.8,380.6 L284.8,383.5 L287.9,385.6 L291.0,384.4 L294.0,382.5 L297.1,381.2 L300.1,380.0 L303.2,377.5 L306.2,373.8 L309.3,366.2 L312.3,369.4 L315.4,371.9 L318.4,371.2 L321.5,368.8 L324.5,366.2 L327.6,363.8 L330.6,361.9 L333.7,360.6 L336.7,359.6 L339.8,358.9 L342.8,355.3 L345.9,351.9 L348.9,350.0 L352.0,346.9 L355.0,341.6 L358.1,337.5 L361.1,331.2 L364.2,326.2 L367.3,321.9 L370.3,317.5 L373.4,312.5 L376.4,308.1 L379.5,303.1 L382.5,298.1 L385.6,295.2 L388.6,296.5 L391.7,295.0 L394.7,291.9 L397.8,288.1 L400.8,284.4 L403.9,280.6 L406.9,278.1 L410.0,275.0 L413.0,271.2 L416.1,265.0 L419.1,259.4 L422.2,255.0 L425.2,251.2 L428.3,246.2 L431.3,238.8 L434.4,231.9 L437.4,230.2 L440.5,231.0 L443.6,230.0 L446.6,226.9 L449.7,223.1 L452.7,218.8 L455.8,215.6 L458.8,213.4 L461.9,211.6 L464.9,209.4 L468.0,207.5 L471.0,204.7 L474.1,201.6 L477.1,198.8 L480.2,195.6 L483.2,191.9 L486.3,188.1 L489.3,184.4 L492.4,178.8 L495.4,175.0 L498.5,170.6 L501.5,166.2 L504.6,161.2 L507.6,158.1 L510.7,156.2 L513.7,154.0 L516.8,152.5 L519.9,149.4 L522.9,146.2 L526.0,143.1 L529.0,140.9 L532.1,138.8 L535.1,136.9 L538.2,135.0 L541.2,133.4 L544.3,131.8 L547.3,129.8 L550.4,127.7 L553.4,127.1 L556.5,126.4 L559.5,125.8 L562.6,124.9 L565.6,124.3 L568.7,123.6 L571.7,123.0 L574.8,122.4 L577.8,121.9 L580.9,121.5 L583.9,121.1 L587.0,120.9 L590.0,120.5 L593.1,120.1 L596.2,119.6 L599.2,119.2 L602.3,118.8 L605.3,118.7 L608.4,118.6 L611.4,118.5 L614.5,118.5 L617.5,118.5 L620.6,118.6 L623.6,118.5 L626.7,118.4 L629.7,118.4 L632.8,118.3 L635.8,118.2 L638.9,118.2 L641.9,118.2 L645.0,118.1 L648.0,118.1 L651.1,118.1 L654.1,118.1 L657.2,118.1 L660.2,118.1 L663.3,118.0 L666.3,118.0 L669.4,118.1 L672.5,118.1 L675.5,118.3 L678.6,118.4 L681.6,118.6 L684.7,118.8 L687.7,119.1 L690.8,119.4 L693.8,119.7 L696.9,120.0 L699.9,120.5 L703.0,120.9 L706.0,121.4 L709.1,121.9 L712.1,122.2 L715.2,122.5 L718.2,122.8 L721.3,123.1 L724.3,123.6 L727.4,124.1 L730.4,124.5 L733.5,125.0 L736.5,125.6 L739.6,126.2 L742.6,126.9 L745.7,127.5 L748.8,127.8 L751.8,128.1 L754.9,128.8 L757.9,129.4 L761.0,130.4 L764.0,131.5 L767.1,132.9 L770.1,134.4 L773.2,135.9 L776.2,137.5 L779.3,139.1 L782.3,140.6 L785.4,143.1 L788.4,146.2 L791.5,148.8 L794.5,150.9 L797.6,155.0 L800.6,157.8 L803.7,160.2 L806.7,162.5 L809.8,164.7 L812.8,166.9 L815.9,169.1 L818.9,171.2 L822.0,173.8 L825.1,176.2 L828.1,177.8 L831.2,179.4 L834.2,180.6 L837.3,181.9 L840.3,183.8 L843.4,185.6 L846.4,187.8 L849.5,190.0 L852.5,191.2 L855.6,192.5 L858.6,193.1 L861.7,193.8 L864.7,195.6 L867.8,197.5 L870.8,198.8 L873.9,200.0 L876.9,202.5 L880.0,206.9 L883.0,208.8 L886.1,212.5 L889.1,217.8 L892.2,225.0 L895.2,227.5 L898.3,228.5 L901.4,230.0 L904.4,232.5 L907.5,235.6 L910.5,238.8 L913.6,238.5 L916.6,239.4 L919.7,242.5 L922.7,245.6 L925.8,249.0 L928.8,250.6 L931.9,251.9 L934.9,253.8 L938.0,254.8 L941.0,253.8 L944.1,252.4 L947.1,252.1 L950.2,253.8 L953.2,256.6 L956.3,261.9 L959.3,267.8 L962.4,272.5 L965.4,277.5 L968.5,284.1 L971.5,291.2 L974.6,297.7 L977.7,302.8 L980.7,306.9 L983.8,309.6 L986.8,311.6 L989.9,316.6 L992.9,319.7 L996.0,316.9 L999.0,314.1 L1002.1,313.5 L1005.1,316.9 L1008.2,320.0 L1011.2,319.4 L1014.3,322.5 L1017.3,325.2 L1020.4,325.6 L1023.4,326.9 L1026.5,329.4 L1029.5,332.2 L1032.6,333.9 L1035.6,332.5 L1038.7,333.3 L1041.7,332.6 L1044.8,332.4 L1047.8,332.4 L1050.9,332.4 L1054.0,332.6 L1057.0,334.2 L1060.1,335.8 L1063.1,336.5 L1066.2,336.2 L1069.2,335.4 L1072.3,335.2 L1075.3,336.6 L1078.4,338.1 L1081.4,339.4 L1084.5,340.9 L1087.5,344.7 L1090.6,343.8 L1093.6,339.8 L1096.7,336.2 L1099.7,340.0 L1102.8,342.2 L1105.8,343.8 L1108.9,343.5 L1111.9,346.9 L1115.0,351.2 L1118.0,356.9 L1121.1,360.0 L1124.1,358.8 L1127.2,361.9 L1130.3,366.2 L1133.3,369.8 L1136.4,363.8 L1139.4,357.5 L1142.5,357.2 L1145.5,361.2 L1148.6,359.8 L1151.6,356.9 L1154.7,354.0 L1157.7,358.8 L1160.8,365.0 L1163.8,364.8 L1166.9,363.5 L1169.9,362.2" fill="none" stroke="#f2d460" stroke-width="0.95" stroke-linejoin="round"/>
<path d="M59.0,358.1 L62.1,358.5 L65.1,358.1 L68.2,360.6 L71.2,358.8 L74.3,358.5 L77.3,360.6 L80.4,360.2 L83.4,358.1 L86.5,358.5 L89.5,358.5 L92.6,361.2 L95.6,357.2 L98.7,359.4 L101.7,363.8 L104.8,360.6 L107.8,355.6 L110.9,355.2 L113.9,355.2 L117.0,357.5 L120.0,359.8 L123.1,361.9 L126.1,365.6 L129.2,367.5 L132.2,366.9 L135.3,364.8 L138.4,362.5 L141.4,365.0 L144.5,368.8 L147.5,371.9 L150.6,373.1 L153.6,376.2 L156.7,376.2 L159.7,368.8 L162.8,360.6 L165.8,358.5 L168.9,362.5 L171.9,363.8 L175.0,363.1 L178.0,358.1 L181.1,352.5 L184.1,346.9 L187.2,347.2 L190.2,347.5 L193.3,353.1 L196.3,357.5 L199.4,359.4 L202.4,357.2 L205.5,357.2 L208.5,358.1 L211.6,361.2 L214.7,363.8 L217.7,365.6 L220.8,361.9 L223.8,363.1 L226.9,360.6 L229.9,361.9 L233.0,368.8 L236.0,373.1 L239.1,374.8 L242.1,372.5 L245.2,370.0 L248.2,366.2 L251.3,367.5 L254.3,370.6 L257.4,370.0 L260.4,366.9 L263.5,363.8 L266.5,361.9 L269.6,361.2 L272.6,361.2 L275.7,363.8 L278.7,366.2 L281.8,368.1 L284.8,370.0 L287.9,366.2 L291.0,361.2 L294.0,355.0 L297.1,351.2 L300.1,348.8 L303.2,347.5 L306.2,348.1 L309.3,347.5 L312.3,346.9 L315.4,343.1 L318.4,340.6 L321.5,341.2 L324.5,342.5 L327.6,343.8 L330.6,340.0 L333.7,330.6 L336.7,324.4 L339.8,322.2 L342.8,322.5 L345.9,323.8 L348.9,326.0 L352.0,327.5 L355.0,325.0 L358.1,323.5 L361.1,324.8 L364.2,323.8 L367.3,319.4 L370.3,312.5 L373.4,305.0 L376.4,296.2 L379.5,290.0 L382.5,286.2 L385.6,285.6 L388.6,283.1 L391.7,280.6 L394.7,276.9 L397.8,273.1 L400.8,267.5 L403.9,261.2 L406.9,261.0 L410.0,258.8 L413.0,256.9 L416.1,253.4 L419.1,250.0 L422.2,246.2 L425.2,242.5 L428.3,239.4 L431.3,237.5 L434.4,236.2 L437.4,234.4 L440.5,233.1 L443.6,232.5 L446.6,232.2 L449.7,233.8 L452.7,231.2 L455.8,228.1 L458.8,225.0 L461.9,221.2 L464.9,218.8 L468.0,215.0 L471.0,208.1 L474.1,203.4 L477.1,196.9 L480.2,192.5 L483.2,188.1 L486.3,183.8 L489.3,179.8 L492.4,176.2 L495.4,172.5 L498.5,168.8 L501.5,162.5 L504.6,157.5 L507.6,155.6 L510.7,154.4 L513.7,151.9 L516.8,148.1 L519.9,144.4 L522.9,142.5 L526.0,140.3 L529.0,136.3 L532.1,135.5 L535.1,134.7 L538.2,133.4 L541.2,132.2 L544.3,130.5 L547.3,128.8 L550.4,127.2 L553.4,125.5 L556.5,125.1 L559.5,124.6 L562.6,124.2 L565.6,123.6 L568.7,123.0 L571.7,122.4 L574.8,121.9 L577.8,121.3 L580.9,121.0 L583.9,120.8 L587.0,120.5 L590.0,120.1 L593.1,119.6 L596.2,119.2 L599.2,118.8 L602.3,118.4 L605.3,118.3 L608.4,118.1 L611.4,118.0 L614.5,118.1 L617.5,118.1 L620.6,118.2 L623.6,118.1 L626.7,118.0 L629.7,118.0 L632.8,117.9 L635.8,117.8 L638.9,117.8 L641.9,117.7 L645.0,117.7 L648.0,117.6 L651.1,117.6 L654.1,117.6 L657.2,117.6 L660.2,117.5 L663.3,117.5 L666.3,117.5 L669.4,117.5 L672.5,117.5 L675.5,117.6 L678.6,117.8 L681.6,117.6 L684.7,117.5 L687.7,118.0 L690.8,118.5 L693.8,118.8 L696.9,119.0 L699.9,118.8 L703.0,118.5 L706.0,118.5 L709.1,118.5 L712.1,119.8 L715.2,120.5 L718.2,121.2 L721.3,121.4 L724.3,121.5 L727.4,121.9 L730.4,122.2 L733.5,123.1 L736.5,124.0 L739.6,124.8 L742.6,125.6 L745.7,126.6 L748.8,127.5 L751.8,128.0 L754.9,128.5 L757.9,128.9 L761.0,129.4 L764.0,130.2 L767.1,131.0 L770.1,133.0 L773.2,135.0 L776.2,136.6 L779.3,138.1 L782.3,139.4 L785.4,140.6 L788.4,141.2 L791.5,141.9 L794.5,143.8 L797.6,145.6 L800.6,148.8 L803.7,150.6 L806.7,154.4 L809.8,155.3 L812.8,157.5 L815.9,158.8 L818.9,163.1 L822.0,166.2 L825.1,168.8 L828.1,171.2 L831.2,171.9 L834.2,173.1 L837.3,173.1 L840.3,172.5 L843.4,171.9 L846.4,175.6 L849.5,178.8 L852.5,181.2 L855.6,185.6 L858.6,189.4 L861.7,191.9 L864.7,195.0 L867.8,197.5 L870.8,198.8 L873.9,198.5 L876.9,199.4 L880.0,201.5 L883.0,200.2 L886.1,201.0 L889.1,202.2 L892.2,202.5 L895.2,202.2 L898.3,203.8 L901.4,208.1 L904.4,212.3 L907.5,216.9 L910.5,221.6 L913.6,224.6 L916.6,226.4 L919.7,228.6 L922.7,234.1 L925.8,240.6 L928.8,245.6 L931.9,244.4 L934.9,242.2 L938.0,241.0 L941.0,243.5 L944.1,250.9 L947.1,253.8 L950.2,255.8 L953.2,257.2 L956.3,259.1 L959.3,262.5 L962.4,266.2 L965.4,268.8 L968.5,273.1 L971.5,278.8 L974.6,283.8 L977.7,288.1 L980.7,292.5 L983.8,294.9 L986.8,296.0 L989.9,297.6 L992.9,301.1 L996.0,304.4 L999.0,307.5 L1002.1,310.2 L1005.1,308.8 L1008.2,306.2 L1011.2,305.0 L1014.3,312.2 L1017.3,313.1 L1020.4,307.5 L1023.4,303.8 L1026.5,301.2 L1029.5,299.0 L1032.6,296.4 L1035.6,297.0 L1038.7,300.6 L1041.7,308.8 L1044.8,315.0 L1047.8,314.0 L1050.9,309.9 L1054.0,310.3 L1057.0,315.0 L1060.1,319.4 L1063.1,322.9 L1066.2,323.5 L1069.2,326.2 L1072.3,331.2 L1075.3,332.5 L1078.4,330.2 L1081.4,326.2 L1084.5,323.8 L1087.5,325.0 L1090.6,330.6 L1093.6,337.5 L1096.7,342.8 L1099.7,345.2 L1102.8,344.8 L1105.8,342.8 L1108.9,341.2 L1111.9,338.5 L1115.0,340.6 L1118.0,347.5 L1121.1,355.0 L1124.1,358.1 L1127.2,355.6 L1130.3,353.1 L1133.3,352.2 L1136.4,349.4 L1139.4,347.5 L1142.5,350.2 L1145.5,350.6 L1148.6,346.9 L1151.6,345.6 L1154.7,353.1 L1157.7,358.1 L1160.8,360.2 L1163.8,358.1 L1166.9,352.5 L1169.9,350.6" fill="none" stroke="#f26a6a" stroke-width="0.95" stroke-linejoin="round"/>
<path d="M59.0,367.5 L62.1,368.1 L65.1,369.4 L68.2,370.0 L71.2,369.4 L74.3,368.8 L77.3,369.4 L80.4,370.0 L83.4,371.2 L86.5,373.1 L89.5,375.0 L92.6,376.2 L95.6,377.5 L98.7,380.0 L101.7,381.2 L104.8,381.2 L107.8,381.0 L110.9,380.6 L113.9,380.4 L117.0,380.2 L120.0,380.0 L123.1,380.0 L126.1,381.2 L129.2,382.2 L132.2,380.0 L135.3,377.5 L138.4,375.6 L141.4,375.6 L144.5,376.6 L147.5,377.5 L150.6,377.8 L153.6,381.2 L156.7,383.1 L159.7,380.0 L162.8,379.0 L165.8,380.0 L168.9,382.8 L171.9,385.0 L175.0,385.4 L178.0,382.5 L181.1,378.1 L184.1,376.9 L187.2,376.2 L190.2,375.6 L193.3,376.2 L196.3,379.4 L199.4,380.0 L202.4,378.1 L205.5,376.0 L208.5,376.2 L211.6,378.5 L214.7,381.2 L217.7,383.5 L220.8,384.0 L223.8,383.5 L226.9,382.8 L229.9,383.1 L233.0,384.8 L236.0,386.9 L239.1,390.0 L242.1,391.5 L245.2,392.0 L248.2,391.9 L251.3,391.5 L254.3,391.2 L257.4,390.2 L260.4,389.0 L263.5,386.9 L266.5,385.4 L269.6,384.4 L272.6,378.1 L275.7,375.6 L278.7,373.8 L281.8,372.8 L284.8,372.8 L287.9,371.6 L291.0,368.8 L294.0,367.1 L297.1,366.2 L300.1,366.7 L303.2,366.7 L306.2,365.3 L309.3,363.4 L312.3,363.4 L315.4,364.9 L318.4,362.9 L321.5,361.1 L324.5,359.4 L327.6,356.9 L330.6,352.5 L333.7,347.2 L336.7,343.8 L339.8,341.9 L342.8,341.8 L345.9,342.5 L348.9,342.4 L352.0,341.0 L355.0,337.8 L358.1,334.4 L361.1,331.0 L364.2,326.9 L367.3,323.1 L370.3,319.4 L373.4,315.0 L376.4,310.0 L379.5,304.4 L382.5,301.0 L385.6,299.0 L388.6,296.5 L391.7,294.0 L394.7,290.6 L397.8,285.6 L400.8,281.9 L403.9,276.9 L406.9,273.8 L410.0,270.6 L413.0,266.9 L416.1,262.5 L419.1,258.5 L422.2,255.6 L425.2,252.5 L428.3,248.8 L431.3,245.6 L434.4,242.5 L437.4,240.2 L440.5,238.5 L443.6,236.9 L446.6,234.4 L449.7,231.2 L452.7,227.5 L455.8,224.4 L458.8,221.9 L461.9,218.1 L464.9,215.6 L468.0,212.5 L471.0,207.7 L474.1,203.6 L477.1,199.8 L480.2,196.5 L483.2,192.5 L486.3,188.8 L489.3,183.8 L492.4,178.5 L495.4,174.0 L498.5,170.6 L501.5,166.9 L504.6,162.5 L507.6,160.2 L510.7,158.8 L513.7,155.6 L516.8,151.9 L519.9,149.8 L522.9,146.2 L526.0,143.1 L529.0,140.3 L532.1,137.1 L535.1,136.1 L538.2,135.0 L541.2,132.5 L544.3,131.2 L547.3,130.0 L550.4,127.9 L553.4,126.2 L556.5,125.8 L559.5,125.4 L562.6,124.6 L565.6,124.4 L568.7,123.7 L571.7,123.1 L574.8,122.5 L577.8,121.9 L580.9,121.6 L583.9,121.2 L587.0,121.0 L590.0,120.6 L593.1,120.1 L596.2,119.7 L599.2,119.2 L602.3,118.9 L605.3,118.8 L608.4,118.6 L611.4,118.5 L614.5,118.6 L617.5,118.6 L620.6,118.6 L623.6,118.6 L626.7,118.5 L629.7,118.4 L632.8,118.4 L635.8,118.3 L638.9,118.3 L641.9,118.3 L645.0,118.2 L648.0,118.2 L651.1,118.2 L654.1,118.2 L657.2,118.1 L660.2,118.1 L663.3,118.1 L666.3,118.1 L669.4,118.1 L672.5,118.5 L675.5,118.6 L678.6,118.8 L681.6,118.9 L684.7,119.0 L687.7,119.4 L690.8,119.8 L693.8,120.2 L696.9,120.6 L699.9,120.9 L703.0,121.2 L706.0,121.6 L709.1,121.9 L712.1,122.1 L715.2,122.2 L718.2,122.7 L721.3,123.1 L724.3,123.6 L727.4,124.0 L730.4,124.4 L733.5,124.8 L736.5,125.4 L739.6,126.0 L742.6,126.8 L745.7,127.5 L748.8,128.2 L751.8,129.0 L754.9,129.8 L757.9,130.6 L761.0,131.6 L764.0,132.5 L767.1,133.8 L770.1,135.0 L773.2,136.6 L776.2,138.1 L779.3,139.7 L782.3,141.2 L785.4,143.3 L788.4,145.3 L791.5,147.3 L794.5,149.4 L797.6,151.7 L800.6,154.1 L803.7,156.9 L806.7,159.4 L809.8,161.2 L812.8,163.1 L815.9,165.9 L818.9,168.8 L822.0,171.4 L825.1,174.0 L828.1,175.9 L831.2,177.8 L834.2,179.2 L837.3,180.6 L840.3,181.7 L843.4,182.8 L846.4,185.2 L849.5,187.8 L852.5,191.1 L855.6,194.4 L858.6,195.9 L861.7,197.5 L864.7,200.0 L867.8,202.5 L870.8,204.5 L873.9,206.5 L876.9,208.1 L880.0,209.8 L883.0,211.3 L886.1,212.9 L889.1,218.1 L892.2,220.6 L895.2,223.3 L898.3,226.0 L901.4,228.9 L904.4,231.9 L907.5,234.8 L910.5,237.8 L913.6,240.0 L916.6,242.2 L919.7,246.8 L922.7,251.2 L925.8,254.4 L928.8,257.5 L931.9,258.0 L934.9,258.5 L938.0,259.8 L941.0,261.1 L944.1,263.3 L947.1,265.6 L950.2,268.1 L953.2,270.6 L956.3,275.0 L959.3,278.5 L962.4,281.9 L965.4,286.2 L968.5,292.8 L971.5,298.1 L974.6,302.8 L977.7,306.5 L980.7,310.1 L983.8,312.1 L986.8,314.1 L989.9,316.9 L992.9,319.4 L996.0,319.8 L999.0,320.2 L1002.1,319.5 L1005.1,318.8 L1008.2,318.4 L1011.2,318.1 L1014.3,318.8 L1017.3,319.4 L1020.4,318.8 L1023.4,318.1 L1026.5,317.9 L1029.5,317.6 L1032.6,318.1 L1035.6,318.6 L1038.7,320.8 L1041.7,322.9 L1044.8,325.0 L1047.8,327.1 L1050.9,327.9 L1054.0,328.6 L1057.0,331.3 L1060.1,334.1 L1063.1,334.5 L1066.2,334.9 L1069.2,333.8 L1072.3,336.9 L1075.3,339.4 L1078.4,341.9 L1081.4,343.0 L1084.5,344.2 L1087.5,346.5 L1090.6,348.8 L1093.6,351.4 L1096.7,354.0 L1099.7,354.2 L1102.8,354.4 L1105.8,353.3 L1108.9,352.2 L1111.9,351.6 L1115.0,351.0 L1118.0,358.1 L1121.1,361.4 L1124.1,364.8 L1127.2,366.8 L1130.3,368.8 L1133.3,368.6 L1136.4,368.5 L1139.4,367.7 L1142.5,366.9 L1145.5,365.9 L1148.6,365.0 L1151.6,365.9 L1154.7,366.9 L1157.7,369.1 L1160.8,371.2 L1163.8,369.2 L1166.9,367.2 L1169.9,366.5" fill="none" stroke="#f04a4a" stroke-width="1.55" stroke-dasharray="5.6,5.6" stroke-linecap="round" stroke-linejoin="round"/>
<path d="M59.0,415.0 L62.1,414.4 L65.1,414.8 L68.2,415.0 L71.2,414.8 L74.3,414.8 L77.3,415.2 L80.4,416.0 L83.4,416.0 L86.5,414.8 L89.5,411.9 L92.6,411.5 L95.6,413.1 L98.7,408.8 L101.7,405.0 L104.8,405.6 L107.8,407.5 L110.9,410.0 L113.9,412.2 L117.0,412.8 L120.0,411.2 L123.1,408.8 L126.1,407.5 L129.2,407.2 L132.2,405.6 L135.3,403.1 L138.4,401.2 L141.4,401.2 L144.5,399.4 L147.5,401.2 L150.6,403.8 L153.6,404.8 L156.7,406.2 L159.7,408.8 L162.8,413.8 L165.8,416.2 L168.9,418.8 L171.9,420.6 L175.0,421.5 L178.0,421.9 L181.1,421.9 L184.1,421.2 L187.2,420.0 L190.2,419.4 L193.3,419.8 L196.3,418.8 L199.4,415.9 L202.4,411.9 L205.5,412.2 L208.5,413.5 L211.6,414.4 L214.7,413.8 L217.7,411.9 L220.8,414.4 L223.8,417.5 L226.9,419.4 L229.9,420.2 L233.0,419.4 L236.0,416.2 L239.1,413.1 L242.1,411.2 L245.2,409.4 L248.2,408.1 L251.3,406.0 L254.3,406.5 L257.4,408.1 L260.4,410.0 L263.5,410.6 L266.5,411.0 L269.6,410.2 L272.6,409.4 L275.7,411.2 L278.7,413.1 L281.8,412.8 L284.8,411.2 L287.9,409.0 L291.0,409.8 L294.0,411.0 L297.1,409.4 L300.1,405.6 L303.2,401.9 L306.2,399.8 L309.3,398.8 L312.3,398.5 L315.4,398.1 L318.4,397.2 L321.5,396.2 L324.5,393.8 L327.6,390.0 L330.6,387.5 L333.7,385.6 L336.7,383.1 L339.8,380.0 L342.8,376.6 L345.9,372.8 L348.9,370.0 L352.0,367.5 L355.0,365.0 L358.1,362.2 L361.1,358.8 L364.2,355.0 L367.3,350.6 L370.3,347.2 L373.4,344.4 L376.4,342.6 L379.5,340.9 L382.5,338.3 L385.6,333.1 L388.6,328.5 L391.7,323.1 L394.7,318.5 L397.8,314.4 L400.8,309.8 L403.9,305.6 L406.9,301.5 L410.0,297.8 L413.0,293.5 L416.1,289.4 L419.1,285.6 L422.2,281.2 L425.2,277.2 L428.3,273.1 L431.3,268.8 L434.4,264.8 L437.4,260.6 L440.5,256.9 L443.6,252.5 L446.6,249.0 L449.7,245.0 L452.7,241.9 L455.8,238.8 L458.8,235.6 L461.9,233.1 L464.9,230.0 L468.0,227.2 L471.0,224.4 L474.1,220.6 L477.1,216.9 L480.2,211.6 L483.2,206.6 L486.3,201.9 L489.3,197.5 L492.4,193.5 L495.4,189.4 L498.5,186.5 L501.5,183.1 L504.6,178.1 L507.6,173.8 L510.7,169.4 L513.7,165.6 L516.8,162.2 L519.9,159.0 L522.9,156.0 L526.0,151.9 L529.0,148.1 L532.1,144.4 L535.1,141.9 L538.2,139.5 L541.2,134.5 L544.3,133.3 L547.3,132.0 L550.4,130.8 L553.4,129.6 L556.5,128.3 L559.5,127.5 L562.6,126.6 L565.6,125.8 L568.7,125.1 L571.7,124.4 L574.8,123.7 L577.8,123.1 L580.9,122.6 L583.9,122.0 L587.0,121.8 L590.0,121.6 L593.1,121.1 L596.2,120.5 L599.2,120.0 L602.3,119.9 L605.3,119.7 L608.4,119.6 L611.4,119.5 L614.5,119.5 L617.5,119.4 L620.6,119.4 L623.6,119.4 L626.7,119.3 L629.7,119.3 L632.8,119.3 L635.8,119.3 L638.9,119.3 L641.9,119.3 L645.0,119.2 L648.0,119.2 L651.1,119.2 L654.1,119.2 L657.2,119.2 L660.2,119.3 L663.3,119.3 L666.3,119.3 L669.4,119.3 L672.5,119.4 L675.5,119.6 L678.6,119.8 L681.6,120.0 L684.7,120.2 L687.7,120.5 L690.8,120.8 L693.8,121.0 L696.9,121.2 L699.9,121.5 L703.0,121.8 L706.0,122.0 L709.1,122.2 L712.1,122.5 L715.2,122.7 L718.2,122.9 L721.3,123.1 L724.3,123.6 L727.4,124.0 L730.4,124.5 L733.5,125.0 L736.5,125.6 L739.6,126.2 L742.6,127.2 L745.7,128.1 L748.8,129.2 L751.8,130.2 L754.9,131.4 L757.9,132.5 L761.0,133.8 L764.0,135.0 L767.1,136.2 L770.1,137.5 L773.2,139.1 L776.2,140.6 L779.3,142.2 L782.3,143.8 L785.4,146.2 L788.4,148.1 L791.5,151.5 L794.5,153.8 L797.6,156.7 L800.6,159.7 L803.7,162.8 L806.7,165.4 L809.8,168.1 L812.8,170.6 L815.9,173.1 L818.9,176.1 L822.0,179.0 L825.1,181.7 L828.1,184.4 L831.2,186.9 L834.2,189.4 L837.3,191.9 L840.3,194.4 L843.4,198.1 L846.4,201.9 L849.5,204.8 L852.5,207.8 L855.6,211.2 L858.6,212.2 L861.7,215.0 L864.7,217.2 L867.8,220.0 L870.8,223.4 L873.9,226.9 L876.9,229.1 L880.0,231.2 L883.0,234.7 L886.1,238.1 L889.1,241.6 L892.2,245.0 L895.2,249.1 L898.3,253.1 L901.4,256.2 L904.4,259.4 L907.5,260.2 L910.5,261.0 L913.6,261.4 L916.6,261.9 L919.7,265.0 L922.7,268.1 L925.8,275.0 L928.8,278.8 L931.9,282.8 L934.9,286.9 L938.0,291.0 L941.0,295.0 L944.1,297.5 L947.1,301.2 L950.2,302.2 L953.2,304.4 L956.3,306.9 L959.3,309.0 L962.4,311.5 L965.4,316.9 L968.5,322.8 L971.5,326.2 L974.6,326.5 L977.7,328.1 L980.7,332.2 L983.8,336.2 L986.8,338.1 L989.9,341.9 L992.9,344.0 L996.0,346.2 L999.0,348.1 L1002.1,348.8 L1005.1,349.4 L1008.2,350.0 L1011.2,350.6 L1014.3,351.2 L1017.3,353.9 L1020.4,356.6 L1023.4,361.2 L1026.5,364.3 L1029.5,367.3 L1032.6,367.7 L1035.6,368.0 L1038.7,369.5 L1041.7,370.9 L1044.8,371.1 L1047.8,371.3 L1050.9,372.8 L1054.0,374.3 L1057.0,376.3 L1060.1,378.4 L1063.1,381.3 L1066.2,384.2 L1069.2,386.0 L1072.3,384.8 L1075.3,386.9 L1078.4,388.9 L1081.4,386.9 L1084.5,384.2 L1087.5,383.1 L1090.6,386.0 L1093.6,388.5 L1096.7,390.0 L1099.7,390.3 L1102.8,390.6 L1105.8,389.8 L1108.9,389.4 L1111.9,393.1 L1115.0,396.2 L1118.0,398.1 L1121.1,399.0 L1124.1,396.2 L1127.2,393.1 L1130.3,390.6 L1133.3,390.0 L1136.4,390.2 L1139.4,390.6 L1142.5,391.5 L1145.5,392.2 L1148.6,393.1 L1151.6,394.8 L1154.7,396.9 L1157.7,400.0 L1160.8,404.5 L1163.8,408.8 L1166.9,411.2 L1169.9,413.1" fill="none" stroke="#4a4afa" stroke-width="1.55" stroke-dasharray="5.6,5.6" stroke-linecap="round" stroke-linejoin="round"/>
<path d="M59.0,371.9 L62.1,352.5 L65.1,331.2 L68.2,325.6 L71.2,346.2 L74.3,373.1 L77.3,382.5 L80.4,388.8 L83.4,385.6 L86.5,375.0 L89.5,374.8 L92.6,375.6 L95.6,386.9 L98.7,392.5 L101.7,396.9 L104.8,399.4 L107.8,405.6 L110.9,403.8 L113.9,400.6 L117.0,383.8 L120.0,380.6 L123.1,372.5 L126.1,370.2 L129.2,370.0 L132.2,375.6 L135.3,379.8 L138.4,371.2 L141.4,362.5 L144.5,353.1 L147.5,350.6 L150.6,338.8 L153.6,312.5 L156.7,268.8 L159.7,258.1 L162.8,264.4 L165.8,253.8 L168.9,234.8 L171.9,237.5 L175.0,261.2 L178.0,297.5 L181.1,315.0 L184.1,333.8 L187.2,348.8 L190.2,343.8 L193.3,321.2 L196.3,299.4 L199.4,310.0 L202.4,320.0 L205.5,330.6 L208.5,331.0 L211.6,341.2 L214.7,350.6 L217.7,348.1 L220.8,338.1 L223.8,341.0 L226.9,341.2 L229.9,338.8 L233.0,321.2 L236.0,296.9 L239.1,290.6 L242.1,284.8 L245.2,287.5 L248.2,310.0 L251.3,325.0 L254.3,351.2 L257.4,351.9 L260.4,346.2 L263.5,358.8 L266.5,373.8 L269.6,385.0 L272.6,396.9 L275.7,393.8 L278.7,365.0 L281.8,361.2 L284.8,372.5 L287.9,363.8 L291.0,352.5 L294.0,340.6 L297.1,339.4 L300.1,341.9 L303.2,350.6 L306.2,353.5 L309.3,353.1 L312.3,351.9 L315.4,344.4 L318.4,341.2 L321.5,344.4 L324.5,348.5 L327.6,348.1 L330.6,353.8 L333.7,356.5 L336.7,355.8 L339.8,346.9 L342.8,343.9 L345.9,351.2 L348.9,359.4 L352.0,365.0 L355.0,365.6 L358.1,361.9 L361.1,347.5 L364.2,326.2 L367.3,312.5 L370.3,314.8 L373.4,317.2 L376.4,317.5 L379.5,313.5 L382.5,314.4 L385.6,315.0 L388.6,313.1 L391.7,305.0 L394.7,296.9 L397.8,288.1 L400.8,279.4 L403.9,271.2 L406.9,262.5 L410.0,255.6 L413.0,255.0 L416.1,253.8 L419.1,248.1 L422.2,238.8 L425.2,229.4 L428.3,217.5 L431.3,218.8 L434.4,213.4 L437.4,211.6 L440.5,213.4 L443.6,211.6 L446.6,196.2 L449.7,187.5 L452.7,188.8 L455.8,185.6 L458.8,180.2 L461.9,183.8 L464.9,183.8 L468.0,186.5 L471.0,184.0 L474.1,184.4 L477.1,185.0 L480.2,186.0 L483.2,184.4 L486.3,179.4 L489.3,177.8 L492.4,180.0 L495.4,184.4 L498.5,183.1 L501.5,183.1 L504.6,180.0 L507.6,171.2 L510.7,166.9 L513.7,163.1 L516.8,160.6 L519.9,160.0 L522.9,149.4 L526.0,142.2 L529.0,142.8 L532.1,142.6 L535.1,142.5 L538.2,142.9 L541.2,140.9 L544.3,136.2 L547.3,133.8 L550.4,133.8 L553.4,132.5 L556.5,132.8 L559.5,131.2 L562.6,128.8 L565.6,128.1 L568.7,128.1 L571.7,125.0 L574.8,124.4 L577.8,123.8 L580.9,122.5 L583.9,121.2 L587.0,121.2 L590.0,121.9 L593.1,119.0 L596.2,117.5 L599.2,120.0 L602.3,121.9 L605.3,119.0 L608.4,121.5 L611.4,120.6 L614.5,121.0 L617.5,117.2 L620.6,119.0 L623.6,121.0 L626.7,120.0 L629.7,120.0 L632.8,118.1 L635.8,116.2 L638.9,118.1 L641.9,119.8 L645.0,116.9 L648.0,114.8 L651.1,114.4 L654.1,115.6 L657.2,117.8 L660.2,119.4 L663.3,118.8 L666.3,119.0 L669.4,120.0 L672.5,122.2 L675.5,122.1 L678.6,118.8 L681.6,118.1 L684.7,118.1 L687.7,119.4 L690.8,120.6 L693.8,121.0 L696.9,122.5 L699.9,123.8 L703.0,120.6 L706.0,120.0 L709.1,122.2 L712.1,122.2 L715.2,121.0 L718.2,119.8 L721.3,120.0 L724.3,119.8 L727.4,119.4 L730.4,117.5 L733.5,118.8 L736.5,119.4 L739.6,120.0 L742.6,121.2 L745.7,123.1 L748.8,125.2 L751.8,124.4 L754.9,124.0 L757.9,125.6 L761.0,125.6 L764.0,124.8 L767.1,124.0 L770.1,128.1 L773.2,132.5 L776.2,135.6 L779.3,138.1 L782.3,132.2 L785.4,135.6 L788.4,139.8 L791.5,136.0 L794.5,135.0 L797.6,140.0 L800.6,140.6 L803.7,142.5 L806.7,146.9 L809.8,149.1 L812.8,152.1 L815.9,153.5 L818.9,154.9 L822.0,153.5 L825.1,160.6 L828.1,161.2 L831.2,170.0 L834.2,174.0 L837.3,178.5 L840.3,183.1 L843.4,178.5 L846.4,177.2 L849.5,181.9 L852.5,180.6 L855.6,179.4 L858.6,184.4 L861.7,187.5 L864.7,194.4 L867.8,197.5 L870.8,196.9 L873.9,188.8 L876.9,190.6 L880.0,190.2 L883.0,190.0 L886.1,197.5 L889.1,206.2 L892.2,213.8 L895.2,215.6 L898.3,202.5 L901.4,189.5 L904.4,189.2 L907.5,197.6 L910.5,194.4 L913.6,187.2 L916.6,174.4 L919.7,169.6 L922.7,186.9 L925.8,203.8 L928.8,210.0 L931.9,210.6 L934.9,200.0 L938.0,193.5 L941.0,191.2 L944.1,188.1 L947.1,197.5 L950.2,206.9 L953.2,208.8 L956.3,208.8 L959.3,208.1 L962.4,215.0 L965.4,223.8 L968.5,234.4 L971.5,239.4 L974.6,240.0 L977.7,251.2 L980.7,263.8 L983.8,264.4 L986.8,272.5 L989.9,281.2 L992.9,287.5 L996.0,289.8 L999.0,286.0 L1002.1,286.0 L1005.1,293.8 L1008.2,302.5 L1011.2,303.1 L1014.3,301.9 L1017.3,310.6 L1020.4,316.2 L1023.4,317.8 L1026.5,302.5 L1029.5,286.9 L1032.6,302.5" fill="none" stroke="#000" stroke-width="2.25" stroke-linejoin="round" stroke-linecap="round"/>
</g>
<path d="M58,59H1170" stroke="#989898" stroke-width="2" fill="none"/>
<path d="M59,58V527" stroke="#6e6e6e" stroke-width="2" fill="none"/>
<path d="M1169.5,58V527" stroke="#555" stroke-width="1.3" fill="none"/>
<path d="M58,526.5H1170" stroke="#000" stroke-width="1" fill="none"/>
<path d="M59.00,526.5V533.8M62.05,526.5V533.8M65.10,526.5V533.8M68.16,526.5V533.8M71.21,526.5V533.8M74.26,526.5V533.8M77.31,526.5V533.8M80.36,526.5V533.8M83.42,526.5V533.8M86.47,526.5V533.8M89.52,526.5V533.8M92.57,526.5V533.8M95.62,526.5V533.8M98.68,526.5V533.8M101.73,526.5V533.8M104.78,526.5V533.8M107.83,526.5V533.8M110.88,526.5V533.8M113.94,526.5V533.8M116.99,526.5V533.8M120.04,526.5V533.8M123.09,526.5V533.8M126.14,526.5V533.8M129.20,526.5V533.8M132.25,526.5V533.8M135.30,526.5V533.8M138.35,526.5V533.8M141.40,526.5V533.8M144.46,526.5V533.8M147.51,526.5V533.8M150.56,526.5V533.8M153.61,526.5V533.8M156.66,526.5V533.8M159.72,526.5V533.8M162.77,526.5V533.8M165.82,526.5V533.8M168.87,526.5V533.8M171.92,526.5V533.8M174.98,526.5V533.8M178.03,526.5V533.8M181.08,526.5V533.8M184.13,526.5V533.8M187.18,526.5V533.8M190.24,526.5V533.8M193.29,526.5V533.8M196.34,526.5V533.8M199.39,526.5V533.8M202.44,526.5V533.8M205.50,526.5V533.8M208.55,526.5V533.8M211.60,526.5V533.8M214.65,526.5V533.8M217.70,526.5V533.8M220.76,526.5V533.8M223.81,526.5V533.8M226.86,526.5V533.8M229.91,526.5V533.8M232.96,526.5V533.8M236.02,526.5V533.8M239.07,526.5V533.8M242.12,526.5V533.8M245.17,526.5V533.8M248.22,526.5V533.8M251.28,526.5V533.8M254.33,526.5V533.8M257.38,526.5V533.8M260.43,526.5V533.8M263.48,526.5V533.8M266.54,526.5V533.8M269.59,526.5V533.8M272.64,526.5V533.8M275.69,526.5V533.8M278.74,526.5V533.8M281.80,526.5V533.8M284.85,526.5V533.8M287.90,526.5V533.8M290.95,526.5V533.8M294.00,526.5V533.8M297.06,526.5V533.8M300.11,526.5V533.8M303.16,526.5V533.8M306.21,526.5V533.8M309.26,526.5V533.8M312.32,526.5V533.8M315.37,526.5V533.8M318.42,526.5V533.8M321.47,526.5V533.8M324.52,526.5V533.8M327.58,526.5V533.8M330.63,526.5V533.8M333.68,526.5V533.8M336.73,526.5V533.8M339.78,526.5V533.8M342.84,526.5V533.8M345.89,526.5V533.8M348.94,526.5V533.8M351.99,526.5V533.8M355.04,526.5V533.8M358.10,526.5V533.8M361.15,526.5V533.8M364.20,526.5V533.8M367.25,526.5V533.8M370.30,526.5V533.8M373.36,526.5V533.8M376.41,526.5V533.8M379.46,526.5V533.8M382.51,526.5V533.8M385.56,526.5V533.8M388.62,526.5V533.8M391.67,526.5V533.8M394.72,526.5V533.8M397.77,526.5V533.8M400.82,526.5V533.8M403.88,526.5V533.8M406.93,526.5V533.8M409.98,526.5V533.8M413.03,526.5V533.8M416.08,526.5V533.8M419.14,526.5V533.8M422.19,526.5V533.8M425.24,526.5V533.8M428.29,526.5V533.8M431.34,526.5V533.8M434.40,526.5V533.8M437.45,526.5V533.8M440.50,526.5V533.8M443.55,526.5V533.8M446.60,526.5V533.8M449.66,526.5V533.8M452.71,526.5V533.8M455.76,526.5V533.8M458.81,526.5V533.8M461.86,526.5V533.8M464.92,526.5V533.8M467.97,526.5V533.8M471.02,526.5V533.8M474.07,526.5V533.8M477.12,526.5V533.8M480.18,526.5V533.8M483.23,526.5V533.8M486.28,526.5V533.8M489.33,526.5V533.8M492.38,526.5V533.8M495.44,526.5V533.8M498.49,526.5V533.8M501.54,526.5V533.8M504.59,526.5V533.8M507.64,526.5V533.8M510.70,526.5V533.8M513.75,526.5V533.8M516.80,526.5V533.8M519.85,526.5V533.8M522.90,526.5V533.8M525.96,526.5V533.8M529.01,526.5V533.8M532.06,526.5V533.8M535.11,526.5V533.8M538.16,526.5V533.8M541.22,526.5V533.8M544.27,526.5V533.8M547.32,526.5V533.8M550.37,526.5V533.8M553.42,526.5V533.8M556.48,526.5V533.8M559.53,526.5V533.8M562.58,526.5V533.8M565.63,526.5V533.8M568.68,526.5V533.8M571.74,526.5V533.8M574.79,526.5V533.8M577.84,526.5V533.8M580.89,526.5V533.8M583.94,526.5V533.8M587.00,526.5V533.8M590.05,526.5V533.8M593.10,526.5V533.8M596.15,526.5V533.8M599.20,526.5V533.8M602.26,526.5V533.8M605.31,526.5V533.8M608.36,526.5V533.8M611.41,526.5V533.8M614.46,526.5V533.8M617.52,526.5V533.8M620.57,526.5V533.8M623.62,526.5V533.8M626.67,526.5V533.8M629.72,526.5V533.8M632.78,526.5V533.8M635.83,526.5V533.8M638.88,526.5V533.8M641.93,526.5V533.8M644.98,526.5V533.8M648.04,526.5V533.8M651.09,526.5V533.8M654.14,526.5V533.8M657.19,526.5V533.8M660.24,526.5V533.8M663.30,526.5V533.8M666.35,526.5V533.8M669.40,526.5V533.8M672.45,526.5V533.8M675.50,526.5V533.8M678.56,526.5V533.8M681.61,526.5V533.8M684.66,526.5V533.8M687.71,526.5V533.8M690.76,526.5V533.8M693.82,526.5V533.8M696.87,526.5V533.8M699.92,526.5V533.8M702.97,526.5V533.8M706.02,526.5V533.8M709.08,526.5V533.8M712.13,526.5V533.8M715.18,526.5V533.8M718.23,526.5V533.8M721.28,526.5V533.8M724.34,526.5V533.8M727.39,526.5V533.8M730.44,526.5V533.8M733.49,526.5V533.8M736.54,526.5V533.8M739.60,526.5V533.8M742.65,526.5V533.8M745.70,526.5V533.8M748.75,526.5V533.8M751.80,526.5V533.8M754.86,526.5V533.8M757.91,526.5V533.8M760.96,526.5V533.8M764.01,526.5V533.8M767.06,526.5V533.8M770.12,526.5V533.8M773.17,526.5V533.8M776.22,526.5V533.8M779.27,526.5V533.8M782.32,526.5V533.8M785.38,526.5V533.8M788.43,526.5V533.8M791.48,526.5V533.8M794.53,526.5V533.8M797.58,526.5V533.8M800.64,526.5V533.8M803.69,526.5V533.8M806.74,526.5V533.8M809.79,526.5V533.8M812.84,526.5V533.8M815.90,526.5V533.8M818.95,526.5V533.8M822.00,526.5V533.8M825.05,526.5V533.8M828.10,526.5V533.8M831.16,526.5V533.8M834.21,526.5V533.8M837.26,526.5V533.8M840.31,526.5V533.8M843.36,526.5V533.8M846.42,526.5V533.8M849.47,526.5V533.8M852.52,526.5V533.8M855.57,526.5V533.8M858.62,526.5V533.8M861.68,526.5V533.8M864.73,526.5V533.8M867.78,526.5V533.8M870.83,526.5V533.8M873.88,526.5V533.8M876.94,526.5V533.8M879.99,526.5V533.8M883.04,526.5V533.8M886.09,526.5V533.8M889.14,526.5V533.8M892.20,526.5V533.8M895.25,526.5V533.8M898.30,526.5V533.8M901.35,526.5V533.8M904.40,526.5V533.8M907.46,526.5V533.8M910.51,526.5V533.8M913.56,526.5V533.8M916.61,526.5V533.8M919.66,526.5V533.8M922.72,526.5V533.8M925.77,526.5V533.8M928.82,526.5V533.8M931.87,526.5V533.8M934.92,526.5V533.8M937.98,526.5V533.8M941.03,526.5V533.8M944.08,526.5V533.8M947.13,526.5V533.8M950.18,526.5V533.8M953.24,526.5V533.8M956.29,526.5V533.8M959.34,526.5V533.8M962.39,526.5V533.8M965.44,526.5V533.8M968.50,526.5V533.8M971.55,526.5V533.8M974.60,526.5V533.8M977.65,526.5V533.8M980.70,526.5V533.8M983.76,526.5V533.8M986.81,526.5V533.8M989.86,526.5V533.8M992.91,526.5V533.8M995.96,526.5V533.8M999.02,526.5V533.8M1002.07,526.5V533.8M1005.12,526.5V533.8M1008.17,526.5V533.8M1011.22,526.5V533.8M1014.28,526.5V533.8M1017.33,526.5V533.8M1020.38,526.5V533.8M1023.43,526.5V533.8M1026.48,526.5V533.8M1029.54,526.5V533.8M1032.59,526.5V533.8M1035.64,526.5V533.8M1038.69,526.5V533.8M1041.74,526.5V533.8M1044.80,526.5V533.8M1047.85,526.5V533.8M1050.90,526.5V533.8M1053.95,526.5V533.8M1057.00,526.5V533.8M1060.06,526.5V533.8M1063.11,526.5V533.8M1066.16,526.5V533.8M1069.21,526.5V533.8M1072.26,526.5V533.8M1075.32,526.5V533.8M1078.37,526.5V533.8M1081.42,526.5V533.8M1084.47,526.5V533.8M1087.52,526.5V533.8M1090.58,526.5V533.8M1093.63,526.5V533.8M1096.68,526.5V533.8M1099.73,526.5V533.8M1102.78,526.5V533.8M1105.84,526.5V533.8M1108.89,526.5V533.8M1111.94,526.5V533.8M1114.99,526.5V533.8M1118.04,526.5V533.8M1121.10,526.5V533.8M1124.15,526.5V533.8M1127.20,526.5V533.8M1130.25,526.5V533.8M1133.30,526.5V533.8M1136.36,526.5V533.8M1139.41,526.5V533.8M1142.46,526.5V533.8M1145.51,526.5V533.8M1148.56,526.5V533.8M1151.62,526.5V533.8M1154.67,526.5V533.8M1157.72,526.5V533.8M1160.77,526.5V533.8M1163.82,526.5V533.8M1166.88,526.5V533.8M1169.50,526.5V533.8" stroke="#000" stroke-width="0.8" fill="none"/>
<path d="M51.3,76.35H59M51.3,126.68H59M51.3,177.01H59M51.3,227.34H59M51.3,277.67H59M51.3,328.00H59M51.3,378.33H59M51.3,428.66H59M51.3,478.99H59" stroke="#000" stroke-width="0.85" fill="none"/>
<g font-family="'Liberation Sans', Arial, sans-serif" fill="#000">
<text transform="translate(42.1,76.35) rotate(-90) scale(0.87,1)" text-anchor="middle" font-size="10.1">5</text>
<text transform="translate(42.1,126.68) rotate(-90) scale(0.87,1)" text-anchor="middle" font-size="10.1">0</text>
<text transform="translate(42.1,177.01) rotate(-90) scale(0.87,1)" text-anchor="middle" font-size="10.1">-5</text>
<text transform="translate(42.1,227.34) rotate(-90) scale(0.87,1)" text-anchor="middle" font-size="10.1">-10</text>
<text transform="translate(42.1,277.67) rotate(-90) scale(0.87,1)" text-anchor="middle" font-size="10.1">-15</text>
<text transform="translate(42.1,328.00) rotate(-90) scale(0.87,1)" text-anchor="middle" font-size="10.1">-20</text>
<text transform="translate(42.1,378.33) rotate(-90) scale(0.87,1)" text-anchor="middle" font-size="10.1">-25</text>
<text transform="translate(42.1,428.66) rotate(-90) scale(0.87,1)" text-anchor="middle" font-size="10.1">-30</text>
<text transform="translate(42.1,478.99) rotate(-90) scale(0.87,1)" text-anchor="middle" font-size="10.1">-35</text>
<text transform="translate(58.70,552.3) scale(0.9,1)" text-anchor="middle" font-size="9.3" stroke="#000" stroke-width="0.08">sty 01</text>
<text transform="translate(89.22,552.3) scale(0.9,1)" text-anchor="middle" font-size="9.3" stroke="#000" stroke-width="0.08">sty 11</text>
<text transform="translate(119.74,552.3) scale(0.9,1)" text-anchor="middle" font-size="9.3" stroke="#000" stroke-width="0.08">sty 21</text>
<text transform="translate(150.26,552.3) scale(0.9,1)" text-anchor="middle" font-size="9.3" stroke="#000" stroke-width="0.08">sty 31</text>
<text transform="translate(180.78,552.3) scale(0.9,1)" text-anchor="middle" font-size="9.3" stroke="#000" stroke-width="0.08">lut 10</text>
<text transform="translate(211.30,552.3) scale(0.9,1)" text-anchor="middle" font-size="9.3" stroke="#000" stroke-width="0.08">lut 20</text>
<text transform="translate(244.87,552.3) scale(0.9,1)" text-anchor="middle" font-size="9.3" stroke="#000" stroke-width="0.08">mar 03</text>
<text transform="translate(281.50,552.3) scale(0.9,1)" text-anchor="middle" font-size="9.3" stroke="#000" stroke-width="0.08">mar 15</text>
<text transform="translate(318.12,552.3) scale(0.9,1)" text-anchor="middle" font-size="9.3" stroke="#000" stroke-width="0.08">mar 27</text>
<text transform="translate(351.69,552.3) scale(0.9,1)" text-anchor="middle" font-size="9.3" stroke="#000" stroke-width="0.08">kwi 07</text>
<text transform="translate(385.26,552.3) scale(0.9,1)" text-anchor="middle" font-size="9.3" stroke="#000" stroke-width="0.08">kwi 18</text>
<text transform="translate(418.84,552.3) scale(0.9,1)" text-anchor="middle" font-size="9.3" stroke="#000" stroke-width="0.08">kwi 29</text>
<text transform="translate(452.41,552.3) scale(0.9,1)" text-anchor="middle" font-size="9.3" stroke="#000" stroke-width="0.08">maj 10</text>
<text transform="translate(485.98,552.3) scale(0.9,1)" text-anchor="middle" font-size="9.3" stroke="#000" stroke-width="0.08">maj 21</text>
<text transform="translate(519.55,552.3) scale(0.9,1)" text-anchor="middle" font-size="9.3" stroke="#000" stroke-width="0.08">cze 01</text>
<text transform="translate(553.12,552.3) scale(0.9,1)" text-anchor="middle" font-size="9.3" stroke="#000" stroke-width="0.08">cze 12</text>
<text transform="translate(586.70,552.3) scale(0.9,1)" text-anchor="middle" font-size="9.3" stroke="#000" stroke-width="0.08">cze 23</text>
<text transform="translate(617.22,552.3) scale(0.9,1)" text-anchor="middle" font-size="9.3" stroke="#000" stroke-width="0.08">lip 03</text>
<text transform="translate(647.74,552.3) scale(0.9,1)" text-anchor="middle" font-size="9.3" stroke="#000" stroke-width="0.08">lip 13</text>
<text transform="translate(678.26,552.3) scale(0.9,1)" text-anchor="middle" font-size="9.3" stroke="#000" stroke-width="0.08">lip 23</text>
<text transform="translate(708.78,552.3) scale(0.9,1)" text-anchor="middle" font-size="9.3" stroke="#000" stroke-width="0.08">sie 02</text>
<text transform="translate(739.30,552.3) scale(0.9,1)" text-anchor="middle" font-size="9.3" stroke="#000" stroke-width="0.08">sie 12</text>
<text transform="translate(769.82,552.3) scale(0.9,1)" text-anchor="middle" font-size="9.3" stroke="#000" stroke-width="0.08">sie 22</text>
<text transform="translate(803.39,552.3) scale(0.9,1)" text-anchor="middle" font-size="9.3" stroke="#000" stroke-width="0.08">wrz 02</text>
<text transform="translate(836.96,552.3) scale(0.9,1)" text-anchor="middle" font-size="9.3" stroke="#000" stroke-width="0.08">wrz 13</text>
<text transform="translate(870.53,552.3) scale(0.9,1)" text-anchor="middle" font-size="9.3" stroke="#000" stroke-width="0.08">wrz 24</text>
<text transform="translate(904.10,552.3) scale(0.9,1)" text-anchor="middle" font-size="9.3" stroke="#000" stroke-width="0.08">paź 05</text>
<text transform="translate(937.68,552.3) scale(0.9,1)" text-anchor="middle" font-size="9.3" stroke="#000" stroke-width="0.08">paź 16</text>
<text transform="translate(971.25,552.3) scale(0.9,1)" text-anchor="middle" font-size="9.3" stroke="#000" stroke-width="0.08">paź 27</text>
<text transform="translate(1001.77,552.3) scale(0.9,1)" text-anchor="middle" font-size="9.3" stroke="#000" stroke-width="0.08">lis 06</text>
<text transform="translate(1029.24,552.3) scale(0.9,1)" text-anchor="middle" font-size="9.3" stroke="#000" stroke-width="0.08">lis 15</text>
<text transform="translate(1056.70,552.3) scale(0.9,1)" text-anchor="middle" font-size="9.3" stroke="#000" stroke-width="0.08">lis 24</text>
<text transform="translate(1087.22,552.3) scale(0.9,1)" text-anchor="middle" font-size="9.3" stroke="#000" stroke-width="0.08">gru 04</text>
<text transform="translate(1120.80,552.3) scale(0.9,1)" text-anchor="middle" font-size="9.3" stroke="#000" stroke-width="0.08">gru 15</text>
<text transform="translate(1154.37,552.3) scale(0.9,1)" text-anchor="middle" font-size="9.3" stroke="#000" stroke-width="0.08">gru 26</text>
<text transform="translate(13.1,292.6) rotate(-90)" text-anchor="middle" font-size="11.8" letter-spacing="0.2" stroke="#000" stroke-width="0.1">Temperatura</text>
<text x="614.4" y="581" text-anchor="middle" font-size="11.8" letter-spacing="0.2" stroke="#000" stroke-width="0.1">Data</text>
<text x="162.1" y="84.70" font-size="11.6" letter-spacing="0.4" stroke="#000" stroke-width="0.1">2022</text>
<text x="162.1" y="99.08" font-size="11.6" letter-spacing="0.4" stroke="#000" stroke-width="0.1">1981-1990</text>
<text x="162.1" y="113.46" font-size="11.6" letter-spacing="0.4" stroke="#000" stroke-width="0.1">1991-2000</text>
<text x="162.1" y="127.84" font-size="11.6" letter-spacing="0.4" stroke="#000" stroke-width="0.1">2001-2010</text>
<text x="162.1" y="142.22" font-size="11.6" letter-spacing="0.4" stroke="#000" stroke-width="0.1">2011-2020</text>
<text x="162.1" y="156.60" font-size="11.6" letter-spacing="0.4" stroke="#000" stroke-width="0.1">1991-2020</text>
<text x="162.1" y="170.98" font-size="11.6" letter-spacing="0.4" stroke="#000" stroke-width="0.1">1951-1980</text>
<text x="162.1" y="185.36" font-size="11.6" letter-spacing="0.4" stroke="#000" stroke-width="0.1">max-min 1950-2021</text>
</g>
<g fill="none" stroke-linecap="butt">
<path d="M97.6,80.50H150.9" stroke="#000" stroke-width="2.25" stroke-linecap="round"/>
<path d="M96.7,95.10H152" stroke="#0000ff" stroke-opacity="0.8" stroke-width="0.8"/>
<path d="M96.7,109.50H152" stroke="#0a6a0a" stroke-width="0.8"/>
<path d="M96.7,123.70H152" stroke="#ffe070" stroke-width="1.5"/>
<path d="M96.7,138.40H152" stroke="#ff2020" stroke-width="0.85"/>
<path d="M97.45,152.50H151.2" stroke="#ff0808" stroke-width="1.75" stroke-dasharray="5.8,6.28" stroke-linecap="round"/>
<path d="M97.45,166.90H151.2" stroke="#0808ff" stroke-width="1.75" stroke-dasharray="5.8,6.28" stroke-linecap="round"/>
<path d="M97.5,181.30H151" stroke="#e6e6e6" stroke-width="5" stroke-linecap="round"/>
</g>
<g font-family="'Liberation Mono', 'Courier New', monospace" fill="#505050">
<text x="58.4" y="18.6" font-size="16.6">Przebieg temperatury w roku 2025</text>
<text x="58.2" y="39.9" font-size="16.6">Region: 80N+</text>
<text x="1173.8" y="18.6" font-size="16.55" text-anchor="end">Dane: Reanaliza ERA5 (ECMWF)</text>
<text x="1159.5" y="37.5" font-size="10" text-anchor="end">Wizualizacja: Meteomodel.pl</text>
<text x="614.0" y="53.3" font-size="11.65" text-anchor="middle">Ostatnie dane: 2025-11-16 (-17.4°C, anomalia (1981-2010): 3.4°C)</text>
</g>
</svg>
</body>
</html>
